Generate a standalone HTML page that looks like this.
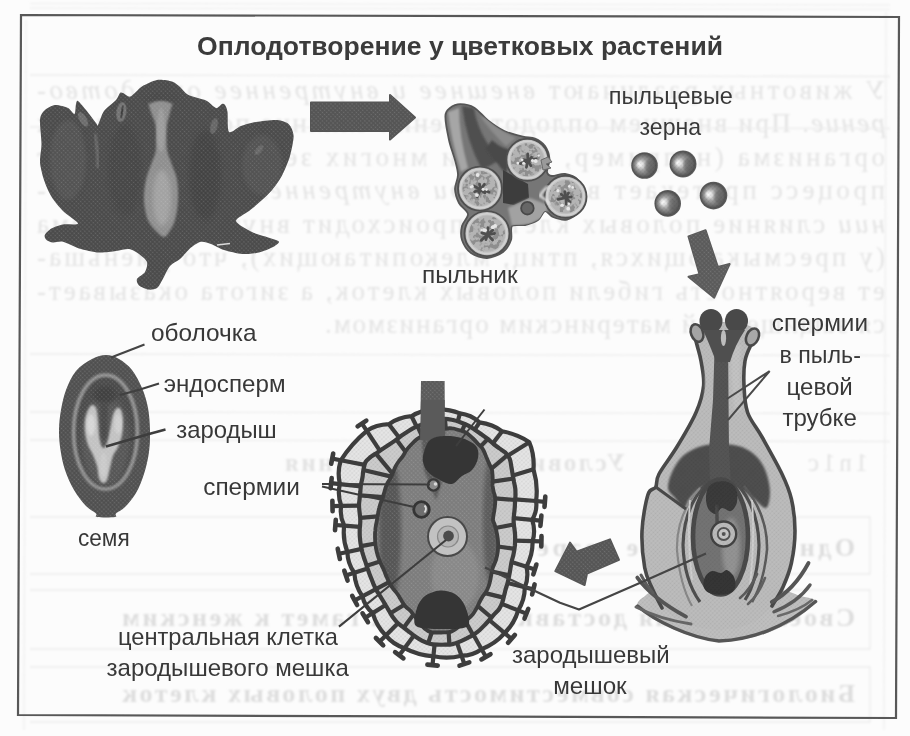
<!DOCTYPE html>
<html lang="ru"><head><meta charset="utf-8"><title>Оплодотворение у цветковых растений</title>
<style>
html,body{margin:0;padding:0;background:#fcfcfc;}
body{width:910px;height:736px;overflow:hidden;font-family:"Liberation Sans",sans-serif;}
svg{display:block}
text{font-family:"Liberation Sans",sans-serif}
.serif{font-family:"Liberation Serif",serif}
</style></head><body>
<svg width="910" height="736" viewBox="0 0 910 736">
<defs>
<filter id="soft" x="-5%" y="-5%" width="110%" height="110%"><feGaussianBlur stdDeviation="0.7"/></filter>
<filter id="soft2" x="-5%" y="-5%" width="110%" height="110%"><feGaussianBlur stdDeviation="1.2"/></filter>
<filter id="soft3" x="-10%" y="-10%" width="120%" height="120%"><feGaussianBlur stdDeviation="2.2"/></filter>
<filter id="ghost" x="-2%" y="-20%" width="104%" height="140%"><feGaussianBlur stdDeviation="0.9"/></filter>
<pattern id="ht" width="3" height="3" patternUnits="userSpaceOnUse" patternTransform="rotate(45)">
 <circle cx="1.5" cy="1.5" r="0.8" fill="#fff" fill-opacity="0.16"/>
</pattern>
<pattern id="htd" width="3" height="3" patternUnits="userSpaceOnUse" patternTransform="rotate(45)">
 <circle cx="1.5" cy="1.5" r="0.9" fill="#000" fill-opacity="0.22"/>
</pattern>
</defs>
<rect x="0" y="0" width="910" height="736" fill="#fcfcfc"/>
<g transform="translate(920,0) scale(-1,1)" filter="url(#ghost)" class="serif" fill="#e3e3e3" font-size="27">
<text x="35" y="98.5" textLength="848" lengthAdjust="spacing" class="serif">У животных различают <tspan font-style='italic'>внешнее и внутреннее оплодотво-</tspan></text>
<text x="35" y="132" textLength="848" lengthAdjust="spacing" class="serif"><tspan font-style='italic'>рение</tspan>. При внешнем оплодотворении слияние половых клеток</text>
<text x="35" y="165.5" textLength="848" lengthAdjust="spacing" class="serif">организма (например, у рыб и многих земноводных) этот</text>
<text x="35" y="199" textLength="848" lengthAdjust="spacing" class="serif">процесс протекает в воде. <tspan font-style='italic'>При внутреннем оплодотворе-</tspan></text>
<text x="35" y="232.5" textLength="848" lengthAdjust="spacing" class="serif"><tspan font-style='italic'>нии</tspan> слияние половых клеток происходит внутри организма</text>
<text x="35" y="266" textLength="848" lengthAdjust="spacing" class="serif">(у пресмыкающихся, птиц, млекопитающих), что уменьша-</text>
<text x="35" y="299.5" textLength="848" lengthAdjust="spacing" class="serif">ет вероятность гибели половых клеток, а зигота оказывает-</text>
<text x="35" y="333" textLength="560" lengthAdjust="spacing" class="serif">ся защищенной материнским организмом.</text>
<text x="295" y="471" font-size="25" font-weight="bold" class="serif" textLength="340" lengthAdjust="spacing">Условия оплодотворения</text>
<text x="52" y="471" font-size="25" class="serif" textLength="60" lengthAdjust="spacing">1n1c</text>
<text x="65" y="556" font-size="26" font-weight="bold" fill="#dddddd" class="serif" textLength="500" lengthAdjust="spacing">Одновременное созревание гамет</text>
<text x="65" y="626" font-size="26" font-weight="bold" fill="#dddddd" class="serif" textLength="733" lengthAdjust="spacing">Своевременная доставка мужских гамет к женским</text>
<text x="65" y="702" font-size="26" font-weight="bold" fill="#dddddd" class="serif" textLength="733" lengthAdjust="spacing">Биологическая совместимость двух половых клеток</text>
</g>
<g stroke="#ececec" stroke-width="1.3" fill="none" filter="url(#ghost)">
<path d="M30,3.5 L890,5 M30,8 L890,9.5" stroke="#ececec" stroke-width="1"/>
<path d="M30,75 L890,76.5"/>
<path d="M30,127 L890,128.5"/>
<path d="M30,354 L890,355.5"/>
<path d="M30,412 L890,413.5"/>
<path d="M30,440 L890,441.5"/>
<path d="M30,517 H870 V574 H30 M30,590 H870 V649 H30 M30,667 H870 V722 H30"/>
<path d="M26,20 L24,730 M886,12 L884,730" stroke="#eeeeee"/>
</g>
<path d="M21,15 L899,17 L896,718 L18,715 Z" fill="none" stroke="#585858" stroke-width="2.2" filter="url(#soft)"/>
<clipPath id="flc"><path d="M40.0,119.0C40.5,114.5 43.0,111.9 45.0,110.0C47.0,108.1 51.9,105.3 55.0,105.0C58.1,104.7 65.4,106.8 68.0,108.0C70.6,109.2 73.4,114.5 74.5,114.0C75.6,113.5 75.5,105.7 76.0,104.0C76.5,102.3 76.7,100.2 78.0,101.0C79.3,101.8 83.6,107.1 86.0,110.0C88.4,112.9 94.4,121.0 96.0,123.0C97.6,125.0 96.9,126.6 98.0,125.0C99.1,123.4 101.6,114.3 104.0,111.0C106.4,107.7 113.9,102.4 116.0,100.0C118.1,97.6 119.1,93.9 120.0,93.0C120.9,92.1 121.6,92.5 123.0,93.0C124.4,93.5 128.0,97.4 130.5,96.5C133.0,95.6 138.5,88.7 142.0,86.5C145.5,84.3 153.0,80.7 157.0,80.0C161.0,79.3 168.9,80.6 172.0,81.5C175.1,82.4 177.9,85.2 180.0,87.0C182.1,88.8 184.5,92.9 188.0,94.7C191.5,96.5 202.3,98.7 206.0,100.5C209.7,102.3 213.9,107.5 216.0,108.0C218.1,108.5 220.8,104.4 222.0,104.0C223.2,103.6 224.3,103.9 225.0,105.0C225.7,106.1 227.0,108.4 227.5,112.0C228.0,115.6 227.2,130.1 229.0,132.0C230.8,133.9 237.4,127.3 241.0,126.0C244.6,124.7 251.2,122.8 256.0,122.0C260.8,121.2 272.6,119.7 277.0,120.0C281.4,120.3 286.8,122.3 289.0,124.4C291.2,126.5 293.5,131.8 293.6,136.0C293.7,140.2 291.5,150.7 290.0,156.0C288.5,161.3 284.4,171.0 282.0,175.5C279.6,180.0 274.7,186.7 272.0,190.0C269.3,193.3 265.1,197.2 262.0,200.0C258.9,202.8 252.5,208.2 249.0,211.0C245.5,213.8 235.6,218.2 236.0,221.0C236.4,223.8 247.6,229.8 252.0,232.0C256.4,234.2 265.4,236.4 269.0,237.7C272.6,239.0 278.6,240.5 279.0,241.8C279.4,243.1 274.7,246.2 272.0,247.6C269.3,249.0 262.9,251.6 259.0,252.5C255.1,253.4 247.2,254.3 242.5,254.0C237.8,253.7 228.2,251.3 224.0,250.0C219.8,248.7 214.1,245.1 211.0,244.0C207.9,242.9 203.7,241.3 201.0,241.8C198.3,242.3 193.8,245.3 191.0,247.6C188.2,249.9 182.8,256.5 180.0,259.0C177.2,261.5 172.4,263.1 170.0,266.0C167.6,268.9 163.7,277.6 162.0,280.5C160.3,283.4 158.8,286.8 157.0,288.0C155.2,289.2 151.1,289.9 148.7,289.6C146.3,289.3 140.6,286.9 139.0,285.5C137.4,284.1 136.2,280.8 137.0,279.0C137.8,277.2 143.7,274.3 145.0,272.0C146.3,269.7 147.8,264.4 147.0,262.0C146.2,259.6 141.4,255.7 139.0,254.0C136.6,252.3 132.1,249.4 129.0,249.0C125.9,248.6 120.0,250.5 116.0,251.0C112.0,251.5 103.9,252.8 99.0,252.5C94.1,252.2 83.8,249.8 79.0,248.4C74.2,247.0 66.5,242.6 63.0,241.8C59.5,241.0 55.2,242.8 53.0,242.6C50.8,242.4 47.6,241.0 46.5,240.0C45.4,239.0 44.1,236.5 44.8,235.0C45.5,233.5 49.0,230.0 51.4,228.6C53.8,227.2 59.5,225.2 63.0,224.5C66.5,223.8 78.0,225.3 78.0,223.5C78.0,221.7 66.5,214.6 63.0,211.0C59.5,207.4 53.9,200.6 51.4,196.5C48.9,192.4 45.5,184.6 44.0,180.0C42.5,175.4 40.3,166.8 40.0,162.0C39.7,157.2 41.5,149.7 41.5,144.0C41.5,138.3 39.5,123.5 40.0,119.0Z"/></clipPath>
<g filter="url(#soft)">
<path d="M40.0,119.0C40.5,114.5 43.0,111.9 45.0,110.0C47.0,108.1 51.9,105.3 55.0,105.0C58.1,104.7 65.4,106.8 68.0,108.0C70.6,109.2 73.4,114.5 74.5,114.0C75.6,113.5 75.5,105.7 76.0,104.0C76.5,102.3 76.7,100.2 78.0,101.0C79.3,101.8 83.6,107.1 86.0,110.0C88.4,112.9 94.4,121.0 96.0,123.0C97.6,125.0 96.9,126.6 98.0,125.0C99.1,123.4 101.6,114.3 104.0,111.0C106.4,107.7 113.9,102.4 116.0,100.0C118.1,97.6 119.1,93.9 120.0,93.0C120.9,92.1 121.6,92.5 123.0,93.0C124.4,93.5 128.0,97.4 130.5,96.5C133.0,95.6 138.5,88.7 142.0,86.5C145.5,84.3 153.0,80.7 157.0,80.0C161.0,79.3 168.9,80.6 172.0,81.5C175.1,82.4 177.9,85.2 180.0,87.0C182.1,88.8 184.5,92.9 188.0,94.7C191.5,96.5 202.3,98.7 206.0,100.5C209.7,102.3 213.9,107.5 216.0,108.0C218.1,108.5 220.8,104.4 222.0,104.0C223.2,103.6 224.3,103.9 225.0,105.0C225.7,106.1 227.0,108.4 227.5,112.0C228.0,115.6 227.2,130.1 229.0,132.0C230.8,133.9 237.4,127.3 241.0,126.0C244.6,124.7 251.2,122.8 256.0,122.0C260.8,121.2 272.6,119.7 277.0,120.0C281.4,120.3 286.8,122.3 289.0,124.4C291.2,126.5 293.5,131.8 293.6,136.0C293.7,140.2 291.5,150.7 290.0,156.0C288.5,161.3 284.4,171.0 282.0,175.5C279.6,180.0 274.7,186.7 272.0,190.0C269.3,193.3 265.1,197.2 262.0,200.0C258.9,202.8 252.5,208.2 249.0,211.0C245.5,213.8 235.6,218.2 236.0,221.0C236.4,223.8 247.6,229.8 252.0,232.0C256.4,234.2 265.4,236.4 269.0,237.7C272.6,239.0 278.6,240.5 279.0,241.8C279.4,243.1 274.7,246.2 272.0,247.6C269.3,249.0 262.9,251.6 259.0,252.5C255.1,253.4 247.2,254.3 242.5,254.0C237.8,253.7 228.2,251.3 224.0,250.0C219.8,248.7 214.1,245.1 211.0,244.0C207.9,242.9 203.7,241.3 201.0,241.8C198.3,242.3 193.8,245.3 191.0,247.6C188.2,249.9 182.8,256.5 180.0,259.0C177.2,261.5 172.4,263.1 170.0,266.0C167.6,268.9 163.7,277.6 162.0,280.5C160.3,283.4 158.8,286.8 157.0,288.0C155.2,289.2 151.1,289.9 148.7,289.6C146.3,289.3 140.6,286.9 139.0,285.5C137.4,284.1 136.2,280.8 137.0,279.0C137.8,277.2 143.7,274.3 145.0,272.0C146.3,269.7 147.8,264.4 147.0,262.0C146.2,259.6 141.4,255.7 139.0,254.0C136.6,252.3 132.1,249.4 129.0,249.0C125.9,248.6 120.0,250.5 116.0,251.0C112.0,251.5 103.9,252.8 99.0,252.5C94.1,252.2 83.8,249.8 79.0,248.4C74.2,247.0 66.5,242.6 63.0,241.8C59.5,241.0 55.2,242.8 53.0,242.6C50.8,242.4 47.6,241.0 46.5,240.0C45.4,239.0 44.1,236.5 44.8,235.0C45.5,233.5 49.0,230.0 51.4,228.6C53.8,227.2 59.5,225.2 63.0,224.5C66.5,223.8 78.0,225.3 78.0,223.5C78.0,221.7 66.5,214.6 63.0,211.0C59.5,207.4 53.9,200.6 51.4,196.5C48.9,192.4 45.5,184.6 44.0,180.0C42.5,175.4 40.3,166.8 40.0,162.0C39.7,157.2 41.5,149.7 41.5,144.0C41.5,138.3 39.5,123.5 40.0,119.0Z" fill="#4b4b4b"/>
<g clip-path="url(#flc)">
<ellipse cx="68" cy="160" rx="18" ry="40" fill="#585858" opacity="0.7" filter="url(#soft3)"/>
<ellipse cx="262" cy="165" rx="20" ry="30" fill="#565656" opacity="0.7" filter="url(#soft3)"/>
<ellipse cx="125" cy="170" rx="16" ry="45" fill="#444" opacity="0.8" filter="url(#soft3)"/>
<ellipse cx="205" cy="175" rx="16" ry="45" fill="#424242" opacity="0.8" filter="url(#soft3)"/>
<path d="M149.0,101.0C150.5,98.9 156.2,99.5 160.0,99.5C163.8,99.5 170.3,98.9 172.0,101.0C173.7,103.1 170.8,108.0 170.0,112.0C169.2,116.0 167.6,120.3 167.0,125.0C166.4,129.7 166.4,135.5 166.5,140.0C166.6,144.5 166.6,147.8 167.5,152.0C168.4,156.2 170.4,160.3 172.0,165.0C173.6,169.7 176.0,174.2 177.0,180.0C178.0,185.8 178.3,193.3 178.0,200.0C177.7,206.7 176.5,214.7 175.0,220.0C173.5,225.3 170.8,229.2 169.0,232.0C167.2,234.8 166.0,237.0 164.0,237.0C162.0,237.0 159.7,234.8 157.0,232.0C154.3,229.2 150.2,225.3 148.0,220.0C145.8,214.7 144.3,206.7 144.0,200.0C143.7,193.3 144.8,185.8 146.0,180.0C147.2,174.2 149.4,169.7 151.0,165.0C152.6,160.3 154.7,156.2 155.5,152.0C156.3,147.8 156.0,144.5 156.0,140.0C156.0,135.5 156.3,129.7 155.5,125.0C154.7,120.3 152.1,116.0 151.0,112.0C149.9,108.0 147.5,103.1 149.0,101.0Z" fill="#8e8e8e" filter="url(#soft2)"/>
<ellipse cx="162" cy="198" rx="9" ry="28" fill="#a2a2a2" filter="url(#soft3)"/>
<ellipse cx="161" cy="130" rx="4" ry="22" fill="#9c9c9c" filter="url(#soft2)"/>
<path d="M146,98 Q161,88 176,98 L173,104 Q161,97 149,104Z" fill="#484848" filter="url(#soft2)"/>
<ellipse cx="121.5" cy="112" rx="5" ry="10" fill="#727272" transform="rotate(8 121 111)" filter="url(#soft)"/>
<ellipse cx="122" cy="112" rx="1.1" ry="7" fill="#3c3c3c" transform="rotate(8 122 112)" filter="url(#soft)"/>
<ellipse cx="83.5" cy="119" rx="3.6" ry="8" fill="#6c6c6c" transform="rotate(-30 84 120)" filter="url(#soft)"/>
<ellipse cx="214" cy="126" rx="3.5" ry="8" fill="#666" transform="rotate(15 214 126)" filter="url(#soft)"/>
<ellipse cx="259" cy="150" rx="2.8" ry="6" fill="#686868" transform="rotate(40 259 150)" filter="url(#soft)"/>
<path d="M95,134 Q98,150 98,168" stroke="#6c6c6c" stroke-width="2.6" fill="none" filter="url(#soft2)"/>
<path d="M217,245 L230,243.5" stroke="#d8d8d8" stroke-width="1.4" fill="none"/>
<path d="M40.0,119.0C40.5,114.5 43.0,111.9 45.0,110.0C47.0,108.1 51.9,105.3 55.0,105.0C58.1,104.7 65.4,106.8 68.0,108.0C70.6,109.2 73.4,114.5 74.5,114.0C75.6,113.5 75.5,105.7 76.0,104.0C76.5,102.3 76.7,100.2 78.0,101.0C79.3,101.8 83.6,107.1 86.0,110.0C88.4,112.9 94.4,121.0 96.0,123.0C97.6,125.0 96.9,126.6 98.0,125.0C99.1,123.4 101.6,114.3 104.0,111.0C106.4,107.7 113.9,102.4 116.0,100.0C118.1,97.6 119.1,93.9 120.0,93.0C120.9,92.1 121.6,92.5 123.0,93.0C124.4,93.5 128.0,97.4 130.5,96.5C133.0,95.6 138.5,88.7 142.0,86.5C145.5,84.3 153.0,80.7 157.0,80.0C161.0,79.3 168.9,80.6 172.0,81.5C175.1,82.4 177.9,85.2 180.0,87.0C182.1,88.8 184.5,92.9 188.0,94.7C191.5,96.5 202.3,98.7 206.0,100.5C209.7,102.3 213.9,107.5 216.0,108.0C218.1,108.5 220.8,104.4 222.0,104.0C223.2,103.6 224.3,103.9 225.0,105.0C225.7,106.1 227.0,108.4 227.5,112.0C228.0,115.6 227.2,130.1 229.0,132.0C230.8,133.9 237.4,127.3 241.0,126.0C244.6,124.7 251.2,122.8 256.0,122.0C260.8,121.2 272.6,119.7 277.0,120.0C281.4,120.3 286.8,122.3 289.0,124.4C291.2,126.5 293.5,131.8 293.6,136.0C293.7,140.2 291.5,150.7 290.0,156.0C288.5,161.3 284.4,171.0 282.0,175.5C279.6,180.0 274.7,186.7 272.0,190.0C269.3,193.3 265.1,197.2 262.0,200.0C258.9,202.8 252.5,208.2 249.0,211.0C245.5,213.8 235.6,218.2 236.0,221.0C236.4,223.8 247.6,229.8 252.0,232.0C256.4,234.2 265.4,236.4 269.0,237.7C272.6,239.0 278.6,240.5 279.0,241.8C279.4,243.1 274.7,246.2 272.0,247.6C269.3,249.0 262.9,251.6 259.0,252.5C255.1,253.4 247.2,254.3 242.5,254.0C237.8,253.7 228.2,251.3 224.0,250.0C219.8,248.7 214.1,245.1 211.0,244.0C207.9,242.9 203.7,241.3 201.0,241.8C198.3,242.3 193.8,245.3 191.0,247.6C188.2,249.9 182.8,256.5 180.0,259.0C177.2,261.5 172.4,263.1 170.0,266.0C167.6,268.9 163.7,277.6 162.0,280.5C160.3,283.4 158.8,286.8 157.0,288.0C155.2,289.2 151.1,289.9 148.7,289.6C146.3,289.3 140.6,286.9 139.0,285.5C137.4,284.1 136.2,280.8 137.0,279.0C137.8,277.2 143.7,274.3 145.0,272.0C146.3,269.7 147.8,264.4 147.0,262.0C146.2,259.6 141.4,255.7 139.0,254.0C136.6,252.3 132.1,249.4 129.0,249.0C125.9,248.6 120.0,250.5 116.0,251.0C112.0,251.5 103.9,252.8 99.0,252.5C94.1,252.2 83.8,249.8 79.0,248.4C74.2,247.0 66.5,242.6 63.0,241.8C59.5,241.0 55.2,242.8 53.0,242.6C50.8,242.4 47.6,241.0 46.5,240.0C45.4,239.0 44.1,236.5 44.8,235.0C45.5,233.5 49.0,230.0 51.4,228.6C53.8,227.2 59.5,225.2 63.0,224.5C66.5,223.8 78.0,225.3 78.0,223.5C78.0,221.7 66.5,214.6 63.0,211.0C59.5,207.4 53.9,200.6 51.4,196.5C48.9,192.4 45.5,184.6 44.0,180.0C42.5,175.4 40.3,166.8 40.0,162.0C39.7,157.2 41.5,149.7 41.5,144.0C41.5,138.3 39.5,123.5 40.0,119.0Z" fill="url(#ht)"/>
</g>
</g>
<g filter="url(#soft)"><path d="M311.0,102.5L390.0,102.5L390.0,95.0L415.0,117.5L390.0,139.5L390.0,131.0L311.0,131.0Z" fill="#545454" stroke="#545454" stroke-width="2" stroke-linejoin="round"/><path d="M311.0,102.5L390.0,102.5L390.0,95.0L415.0,117.5L390.0,139.5L390.0,131.0L311.0,131.0Z" fill="url(#ht)"/></g>
<filter id="mott" x="0" y="0" width="100%" height="100%">
<feTurbulence type="fractalNoise" baseFrequency="0.2" numOctaves="2" seed="9" result="n"/>
<feColorMatrix in="n" type="matrix" values="0 0 0 0 0.27  0 0 0 0 0.27  0 0 0 0 0.27  9 0 0 0 -4.3" result="c"/>
<feComposite in="c" in2="SourceAlpha" operator="in" result="m"/>
<feMerge><feMergeNode in="SourceGraphic"/><feMergeNode in="m"/></feMerge>
</filter>
<clipPath id="anc"><path d="M445.4,116.0C445.5,111.2 447.8,109.8 450.0,108.0C452.2,106.2 456.8,104.2 460.4,104.2C464.0,104.2 470.2,105.3 474.3,107.7C478.4,110.1 483.5,116.9 488.0,120.4C492.5,123.9 499.1,128.6 504.3,131.0C509.5,133.4 518.2,135.5 522.8,136.6C527.4,137.7 531.7,137.1 535.0,138.5C538.3,139.9 542.8,142.9 545.0,146.0C547.2,149.1 549.2,155.1 549.5,159.0C549.8,162.9 546.6,169.4 547.0,172.0C547.4,174.6 549.3,175.7 552.0,176.0C554.7,176.3 561.1,173.4 565.0,174.0C568.9,174.6 575.0,176.7 578.0,180.0C581.0,183.3 584.7,191.3 585.0,196.0C585.3,200.7 582.7,207.5 580.0,211.0C577.3,214.5 571.0,218.6 567.0,219.5C563.0,220.4 556.3,218.3 553.0,217.0C549.7,215.7 547.2,210.6 545.0,211.0C542.8,211.4 541.0,217.9 538.0,220.0C535.0,222.1 528.9,224.1 525.0,225.0C521.1,225.9 514.1,223.8 512.0,226.0C509.9,228.2 512.4,236.1 511.0,240.0C509.6,243.9 506.6,249.3 503.0,252.0C499.4,254.7 491.8,257.9 487.0,258.0C482.2,258.1 474.8,255.7 471.0,253.0C467.2,250.3 463.4,244.1 462.0,240.0C460.6,235.9 461.1,229.9 462.0,226.0C462.9,222.1 468.4,217.4 468.0,214.0C467.6,210.6 460.9,206.8 459.0,203.0C457.1,199.2 455.1,193.2 455.0,189.0C454.9,184.8 458.0,179.3 458.0,175.0C458.0,170.7 456.4,165.2 455.0,160.0C453.6,154.8 450.4,146.6 449.0,140.0C447.6,133.4 445.2,120.8 445.4,116.0Z"/></clipPath>
<g filter="url(#soft)">
<path d="M445.4,116.0C445.5,111.2 447.8,109.8 450.0,108.0C452.2,106.2 456.8,104.2 460.4,104.2C464.0,104.2 470.2,105.3 474.3,107.7C478.4,110.1 483.5,116.9 488.0,120.4C492.5,123.9 499.1,128.6 504.3,131.0C509.5,133.4 518.2,135.5 522.8,136.6C527.4,137.7 531.7,137.1 535.0,138.5C538.3,139.9 542.8,142.9 545.0,146.0C547.2,149.1 549.2,155.1 549.5,159.0C549.8,162.9 546.6,169.4 547.0,172.0C547.4,174.6 549.3,175.7 552.0,176.0C554.7,176.3 561.1,173.4 565.0,174.0C568.9,174.6 575.0,176.7 578.0,180.0C581.0,183.3 584.7,191.3 585.0,196.0C585.3,200.7 582.7,207.5 580.0,211.0C577.3,214.5 571.0,218.6 567.0,219.5C563.0,220.4 556.3,218.3 553.0,217.0C549.7,215.7 547.2,210.6 545.0,211.0C542.8,211.4 541.0,217.9 538.0,220.0C535.0,222.1 528.9,224.1 525.0,225.0C521.1,225.9 514.1,223.8 512.0,226.0C509.9,228.2 512.4,236.1 511.0,240.0C509.6,243.9 506.6,249.3 503.0,252.0C499.4,254.7 491.8,257.9 487.0,258.0C482.2,258.1 474.8,255.7 471.0,253.0C467.2,250.3 463.4,244.1 462.0,240.0C460.6,235.9 461.1,229.9 462.0,226.0C462.9,222.1 468.4,217.4 468.0,214.0C467.6,210.6 460.9,206.8 459.0,203.0C457.1,199.2 455.1,193.2 455.0,189.0C454.9,184.8 458.0,179.3 458.0,175.0C458.0,170.7 456.4,165.2 455.0,160.0C453.6,154.8 450.4,146.6 449.0,140.0C447.6,133.4 445.2,120.8 445.4,116.0Z" fill="#767676" stroke="#555" stroke-width="1.8"/>
<g clip-path="url(#anc)">
<path d="M448,112 Q451,140 461,172 L468,168 Q459,135 459,108Z" fill="#a6a6a6" filter="url(#soft2)"/>
<path d="M462,106 Q466,140 482,170 L500,160 Q478,135 474,108Z" fill="#505050" filter="url(#soft2)"/>
<path d="M480,116 Q492,133 506,146 L516,138 Q498,130 486,118Z" fill="#8c8c8c" filter="url(#soft2)"/>
<path d="M486,148 Q498,165 506,174 L512,150 Q500,148 492,140Z" fill="#484848" filter="url(#soft2)"/>
<path d="M503,170 L528,184 L529,198 L514,205 L503,203 Z" fill="#3e3e3e" filter="url(#soft)"/>
<path d="M508,208 L530,198 L548,205 L546,216 L530,224 L512,226Z" fill="#a2a2a2" filter="url(#soft2)"/>
</g>
<circle cx="527.4" cy="159.7" r="21" fill="#c2c2c2" stroke="#505050" stroke-width="1.9"/>
<g filter="url(#soft)">
<circle cx="527.4" cy="159.7" r="16.5" fill="#b4b4b4" filter="url(#mott)"/>
<path d="M527.9,160.7 L536.1,158.9" stroke="#505050" stroke-width="2.8" stroke-linecap="round"/>
<path d="M527.9,160.7 L530.9,165.9" stroke="#505050" stroke-width="2.8" stroke-linecap="round"/>
<path d="M527.9,160.7 L526.4,167.3" stroke="#505050" stroke-width="2.8" stroke-linecap="round"/>
<path d="M527.9,160.7 L520.3,163.6" stroke="#505050" stroke-width="2.8" stroke-linecap="round"/>
<path d="M527.9,160.7 L522.9,159.7" stroke="#505050" stroke-width="2.8" stroke-linecap="round"/>
<path d="M527.9,160.7 L527.7,154.0" stroke="#505050" stroke-width="2.8" stroke-linecap="round"/>
<path d="M527.9,160.7 L531.6,157.3" stroke="#505050" stroke-width="2.8" stroke-linecap="round"/>
<circle cx="517.8" cy="163.1" r="1.4" fill="#e6e6e6"/>
<circle cx="538.7" cy="155.6" r="1.2" fill="#e6e6e6"/>
<circle cx="535.7" cy="161.0" r="2.0" fill="#e6e6e6"/>
<circle cx="523.6" cy="163.2" r="1.5" fill="#e6e6e6"/>
<circle cx="532.5" cy="160.6" r="1.6" fill="#e6e6e6"/>
<circle cx="522.1" cy="159.8" r="1.4" fill="#e6e6e6"/>
</g>
<circle cx="527.4" cy="159.7" r="18.4" fill="none" stroke="#d2d2d2" stroke-width="1.5"/>
<circle cx="480" cy="188.6" r="22" fill="#c2c2c2" stroke="#505050" stroke-width="1.9"/>
<g filter="url(#soft)">
<circle cx="480" cy="188.6" r="17.5" fill="#b4b4b4" filter="url(#mott)"/>
<path d="M480.5,189.6 L489.0,192.0" stroke="#505050" stroke-width="2.8" stroke-linecap="round"/>
<path d="M480.5,189.6 L484.8,192.8" stroke="#505050" stroke-width="2.8" stroke-linecap="round"/>
<path d="M480.5,189.6 L477.2,196.8" stroke="#505050" stroke-width="2.8" stroke-linecap="round"/>
<path d="M480.5,189.6 L474.6,191.7" stroke="#505050" stroke-width="2.8" stroke-linecap="round"/>
<path d="M480.5,189.6 L474.0,186.0" stroke="#505050" stroke-width="2.8" stroke-linecap="round"/>
<path d="M480.5,189.6 L479.5,184.1" stroke="#505050" stroke-width="2.8" stroke-linecap="round"/>
<path d="M480.5,189.6 L484.4,184.3" stroke="#505050" stroke-width="2.8" stroke-linecap="round"/>
<circle cx="477.6" cy="174.9" r="2.0" fill="#e6e6e6"/>
<circle cx="472.4" cy="186.4" r="1.4" fill="#e6e6e6"/>
<circle cx="483.2" cy="189.3" r="1.6" fill="#e6e6e6"/>
<circle cx="477.0" cy="195.1" r="1.9" fill="#e6e6e6"/>
<circle cx="471.0" cy="187.1" r="1.4" fill="#e6e6e6"/>
<circle cx="486.5" cy="189.6" r="1.3" fill="#e6e6e6"/>
</g>
<circle cx="480" cy="188.6" r="19.4" fill="none" stroke="#d2d2d2" stroke-width="1.5"/>
<circle cx="487" cy="233.6" r="22.5" fill="#c2c2c2" stroke="#505050" stroke-width="1.9"/>
<g filter="url(#soft)">
<circle cx="487" cy="233.6" r="18.0" fill="#b4b4b4" filter="url(#mott)"/>
<path d="M487.5,234.6 L494.6,233.5" stroke="#505050" stroke-width="2.8" stroke-linecap="round"/>
<path d="M487.5,234.6 L492.6,240.0" stroke="#505050" stroke-width="2.8" stroke-linecap="round"/>
<path d="M487.5,234.6 L485.9,239.6" stroke="#505050" stroke-width="2.8" stroke-linecap="round"/>
<path d="M487.5,234.6 L481.3,240.2" stroke="#505050" stroke-width="2.8" stroke-linecap="round"/>
<path d="M487.5,234.6 L481.8,232.8" stroke="#505050" stroke-width="2.8" stroke-linecap="round"/>
<path d="M487.5,234.6 L488.0,227.7" stroke="#505050" stroke-width="2.8" stroke-linecap="round"/>
<path d="M487.5,234.6 L492.8,230.2" stroke="#505050" stroke-width="2.8" stroke-linecap="round"/>
<circle cx="484.0" cy="230.0" r="1.7" fill="#e6e6e6"/>
<circle cx="493.1" cy="227.0" r="1.8" fill="#e6e6e6"/>
<circle cx="485.2" cy="230.3" r="1.8" fill="#e6e6e6"/>
<circle cx="481.6" cy="230.1" r="1.2" fill="#e6e6e6"/>
<circle cx="492.6" cy="227.3" r="1.8" fill="#e6e6e6"/>
<circle cx="495.1" cy="225.9" r="1.9" fill="#e6e6e6"/>
</g>
<circle cx="487" cy="233.6" r="19.9" fill="none" stroke="#d2d2d2" stroke-width="1.5"/>
<circle cx="565.5" cy="196.7" r="21" fill="#c2c2c2" stroke="#505050" stroke-width="1.9"/>
<g filter="url(#soft)">
<circle cx="565.5" cy="196.7" r="16.5" fill="#b4b4b4" filter="url(#mott)"/>
<path d="M566.0,197.7 L571.3,196.8" stroke="#505050" stroke-width="2.8" stroke-linecap="round"/>
<path d="M566.0,197.7 L569.8,201.9" stroke="#505050" stroke-width="2.8" stroke-linecap="round"/>
<path d="M566.0,197.7 L566.2,204.3" stroke="#505050" stroke-width="2.8" stroke-linecap="round"/>
<path d="M566.0,197.7 L558.0,199.3" stroke="#505050" stroke-width="2.8" stroke-linecap="round"/>
<path d="M566.0,197.7 L561.2,194.3" stroke="#505050" stroke-width="2.8" stroke-linecap="round"/>
<path d="M566.0,197.7 L564.8,191.7" stroke="#505050" stroke-width="2.8" stroke-linecap="round"/>
<path d="M566.0,197.7 L568.5,192.9" stroke="#505050" stroke-width="2.8" stroke-linecap="round"/>
<circle cx="568.2" cy="208.7" r="1.9" fill="#e6e6e6"/>
<circle cx="569.3" cy="186.4" r="1.4" fill="#e6e6e6"/>
<circle cx="562.1" cy="205.3" r="1.8" fill="#e6e6e6"/>
<circle cx="572.7" cy="187.4" r="1.3" fill="#e6e6e6"/>
<circle cx="557.9" cy="190.7" r="1.6" fill="#e6e6e6"/>
<circle cx="568.9" cy="203.7" r="1.3" fill="#e6e6e6"/>
</g>
<circle cx="565.5" cy="196.7" r="18.4" fill="none" stroke="#d2d2d2" stroke-width="1.5"/>
<circle cx="527.4" cy="208.2" r="6.3" fill="#666" stroke="#4a4a4a" stroke-width="1.8"/>
<path d="M541,160 l7,-3 l4,5 l-6,2 l5,4 l-8,2z" fill="#9a9a9a" stroke="#6a6a6a" stroke-width="1" filter="url(#soft)"/>
<path d="M549,186 q-7,5 -9,10 q6,3 10,8" stroke="#e2e2e2" stroke-width="2.4" fill="none" filter="url(#soft2)"/>
</g>
<radialGradient id="pg" cx="0.5" cy="0.5" r="0.5" fx="0.3" fy="0.45">
<stop offset="0" stop-color="#ffffff"/><stop offset="0.18" stop-color="#e6e6e6"/><stop offset="0.42" stop-color="#a6a6a6"/><stop offset="0.7" stop-color="#787878"/><stop offset="0.9" stop-color="#545454"/><stop offset="1" stop-color="#626262"/></radialGradient>
<g filter="url(#soft)">
<circle cx="644.5" cy="165.5" r="13.3" fill="url(#pg)"/>
<circle cx="644.5" cy="165.5" r="13.3" fill="url(#htd)" opacity="0.45"/>
<ellipse cx="649.0" cy="166.5" rx="4" ry="6.5" fill="#444" opacity="0.4" filter="url(#soft2)"/>
<circle cx="683" cy="164" r="13.5" fill="url(#pg)"/>
<circle cx="683" cy="164" r="13.5" fill="url(#htd)" opacity="0.45"/>
<ellipse cx="687.5" cy="165" rx="4" ry="6.5" fill="#444" opacity="0.4" filter="url(#soft2)"/>
<circle cx="667.7" cy="203.4" r="13.3" fill="url(#pg)"/>
<circle cx="667.7" cy="203.4" r="13.3" fill="url(#htd)" opacity="0.45"/>
<ellipse cx="672.2" cy="204.4" rx="4" ry="6.5" fill="#444" opacity="0.4" filter="url(#soft2)"/>
<circle cx="713.5" cy="195.6" r="13.8" fill="url(#pg)"/>
<circle cx="713.5" cy="195.6" r="13.8" fill="url(#htd)" opacity="0.45"/>
<ellipse cx="718.0" cy="196.6" rx="4" ry="6.5" fill="#444" opacity="0.4" filter="url(#soft2)"/>
<path d="M688.5,236.4L705.6,230.3L717.9,267.0L729.6,264.0L714.2,297.6L688.5,276.8L699.5,274.3Z" fill="#5a5a5a" stroke="#5a5a5a" stroke-width="2" stroke-linejoin="round"/><path d="M688.5,236.4L705.6,230.3L717.9,267.0L729.6,264.0L714.2,297.6L688.5,276.8L699.5,274.3Z" fill="url(#ht)"/>
<path d="M555.3,571.2L570.0,542.6L576.5,551.6L610.0,539.4L619.0,559.8L587.0,573.6L584.6,585.0Z" fill="#555" stroke="#555" stroke-width="2" stroke-linejoin="round"/><path d="M555.3,571.2L570.0,542.6L576.5,551.6L610.0,539.4L619.0,559.8L587.0,573.6L584.6,585.0Z" fill="url(#ht)"/>
</g>
<clipPath id="sdc"><path d="M106.0,355.0C110.5,355.0 114.7,356.5 119.0,359.0C123.3,361.5 128.2,365.2 132.0,370.0C135.8,374.8 139.3,381.7 142.0,388.0C144.7,394.3 146.7,401.0 148.0,408.0C149.3,415.0 149.8,422.7 150.0,430.0C150.2,437.3 150.0,444.7 149.0,452.0C148.0,459.3 146.2,467.2 144.0,474.0C141.8,480.8 139.2,487.5 136.0,493.0C132.8,498.5 128.3,503.6 125.0,507.0C121.7,510.4 117.7,511.8 116.0,513.5C114.3,515.2 118.2,516.4 115.0,517.0C111.8,517.6 100.2,517.6 97.0,517.0C93.8,516.4 97.8,515.3 96.0,513.5C94.2,511.7 89.7,509.9 86.0,506.0C82.3,502.1 77.5,496.0 74.0,490.0C70.5,484.0 67.2,476.7 65.0,470.0C62.8,463.3 61.5,456.7 60.5,450.0C59.5,443.3 58.9,436.7 59.0,430.0C59.1,423.3 59.8,416.7 61.0,410.0C62.2,403.3 63.5,396.5 66.0,390.0C68.5,383.5 71.7,376.2 76.0,371.0C80.3,365.8 87.0,361.7 92.0,359.0C97.0,356.3 101.5,355.0 106.0,355.0Z"/></clipPath>
<g filter="url(#soft)">
<path d="M106.0,355.0C110.5,355.0 114.7,356.5 119.0,359.0C123.3,361.5 128.2,365.2 132.0,370.0C135.8,374.8 139.3,381.7 142.0,388.0C144.7,394.3 146.7,401.0 148.0,408.0C149.3,415.0 149.8,422.7 150.0,430.0C150.2,437.3 150.0,444.7 149.0,452.0C148.0,459.3 146.2,467.2 144.0,474.0C141.8,480.8 139.2,487.5 136.0,493.0C132.8,498.5 128.3,503.6 125.0,507.0C121.7,510.4 117.7,511.8 116.0,513.5C114.3,515.2 118.2,516.4 115.0,517.0C111.8,517.6 100.2,517.6 97.0,517.0C93.8,516.4 97.8,515.3 96.0,513.5C94.2,511.7 89.7,509.9 86.0,506.0C82.3,502.1 77.5,496.0 74.0,490.0C70.5,484.0 67.2,476.7 65.0,470.0C62.8,463.3 61.5,456.7 60.5,450.0C59.5,443.3 58.9,436.7 59.0,430.0C59.1,423.3 59.8,416.7 61.0,410.0C62.2,403.3 63.5,396.5 66.0,390.0C68.5,383.5 71.7,376.2 76.0,371.0C80.3,365.8 87.0,361.7 92.0,359.0C97.0,356.3 101.5,355.0 106.0,355.0Z" fill="#505050"/>
<g clip-path="url(#sdc)">
<ellipse cx="105.5" cy="432" rx="32" ry="57" fill="#4c4c4c" stroke="#949494" stroke-width="3.4" filter="url(#soft2)"/>
<ellipse cx="105.5" cy="440" rx="24" ry="46" fill="#565656" filter="url(#soft3)"/>
<path d="M88.0,410.0C89.2,407.5 90.7,405.3 92.0,405.0C93.3,404.7 95.0,405.5 96.0,408.0C97.0,410.5 97.5,415.5 98.0,420.0C98.5,424.5 98.5,430.8 99.0,435.0C99.5,439.2 100.2,442.8 101.0,445.0C101.8,447.2 103.0,448.3 104.0,448.0C105.0,447.7 106.0,446.0 107.0,443.0C108.0,440.0 109.0,434.7 110.0,430.0C111.0,425.3 111.8,418.7 113.0,415.0C114.2,411.3 115.7,408.8 117.0,408.0C118.3,407.2 120.0,408.0 121.0,410.0C122.0,412.0 122.8,415.8 123.0,420.0C123.2,424.2 122.8,430.5 122.0,435.0C121.2,439.5 119.5,443.5 118.0,447.0C116.5,450.5 114.3,452.5 113.0,456.0C111.7,459.5 111.0,464.0 110.0,468.0C109.0,472.0 108.2,477.5 107.0,480.0C105.8,482.5 104.3,483.3 103.0,483.0C101.7,482.7 100.0,480.8 99.0,478.0C98.0,475.2 98.0,469.8 97.0,466.0C96.0,462.2 94.5,458.5 93.0,455.0C91.5,451.5 89.3,448.8 88.0,445.0C86.7,441.2 85.5,436.2 85.0,432.0C84.5,427.8 84.5,423.7 85.0,420.0C85.5,416.3 86.8,412.5 88.0,410.0Z" fill="#c2c2c2" filter="url(#soft2)"/>
<ellipse cx="91" cy="425" rx="4" ry="11" fill="#d6d6d6" filter="url(#soft2)"/>
<ellipse cx="118" cy="424" rx="3.5" ry="10" fill="#cfcfcf" filter="url(#soft2)"/>
<ellipse cx="103.5" cy="465" rx="3.5" ry="12" fill="#cacaca" filter="url(#soft2)"/>
<path d="M100,404 L108,404 L107,436 L104,442 L101,436Z" fill="#484848" filter="url(#soft2)"/>
<ellipse cx="105" cy="395" rx="12" ry="9" fill="#404040" filter="url(#soft3)"/>
<path d="M106.0,355.0C110.5,355.0 114.7,356.5 119.0,359.0C123.3,361.5 128.2,365.2 132.0,370.0C135.8,374.8 139.3,381.7 142.0,388.0C144.7,394.3 146.7,401.0 148.0,408.0C149.3,415.0 149.8,422.7 150.0,430.0C150.2,437.3 150.0,444.7 149.0,452.0C148.0,459.3 146.2,467.2 144.0,474.0C141.8,480.8 139.2,487.5 136.0,493.0C132.8,498.5 128.3,503.6 125.0,507.0C121.7,510.4 117.7,511.8 116.0,513.5C114.3,515.2 118.2,516.4 115.0,517.0C111.8,517.6 100.2,517.6 97.0,517.0C93.8,516.4 97.8,515.3 96.0,513.5C94.2,511.7 89.7,509.9 86.0,506.0C82.3,502.1 77.5,496.0 74.0,490.0C70.5,484.0 67.2,476.7 65.0,470.0C62.8,463.3 61.5,456.7 60.5,450.0C59.5,443.3 58.9,436.7 59.0,430.0C59.1,423.3 59.8,416.7 61.0,410.0C62.2,403.3 63.5,396.5 66.0,390.0C68.5,383.5 71.7,376.2 76.0,371.0C80.3,365.8 87.0,361.7 92.0,359.0C97.0,356.3 101.5,355.0 106.0,355.0Z" fill="url(#ht)"/>
</g>
<path d="M144.5,344.5 L111,357.5" stroke="#444" stroke-width="2.1" fill="none"/>
<path d="M159,383.5 L140,389.5 L120,395" stroke="#404040" stroke-width="2.3" fill="none"/>
<path d="M165.5,429.5 L149,434 L106,446.5" stroke="#3c3c3c" stroke-width="2.4" fill="none"/>
</g>
<g filter="url(#soft)">
<path d="M421,381 L444.6,381 L445,440 L420,440Z" fill="#5a5a5a"/>
<path d="M421,381 L444.6,381 L445,440 L420,440Z" fill="url(#ht)"/>
<path d="M532.6,541.1Q532.9,554.5 526.5,566.7Q528.9,577.9 524.8,587.3Q524.8,599.9 518.2,610.4Q514.4,623.5 504.7,633.1Q495.3,643.7 481.6,649.2Q472.9,655.5 461.5,655.7Q447.9,659.3 433.4,656.3Q417.8,655.3 404.5,648.2Q392.9,644.4 385.8,635.4Q376.6,626.4 372.7,613.1Q364.6,606.4 362.4,596.3Q355.2,585.9 354.3,572.8Q347.5,563.3 347.4,552.0Q342.4,539.0 344.2,525.7Q339.3,515.7 341.3,505.9Q337.2,494.9 339.9,484.1Q337.0,471.7 340.8,460.3Q351.2,443.8 366.8,430.8Q375.9,424.7 388.9,424.2Q398.4,417.3 411.5,416.2Q421.1,409.8 432.9,409.8Q446.6,408.3 460.0,413.4Q471.1,414.8 479.5,422.3Q492.8,424.0 502.2,431.3Q518.2,434.5 529.3,442.2Q534.5,454.4 533.5,469.3Q538.2,484.9 536.1,501.0Q537.5,510.8 532.2,519.9Q535.8,530.7 532.6,541.1Z" fill="#e6e6e6"/><path d="M515.1,535.0C515.1,536.7 515.2,538.5 515.1,540.2C515.1,541.9 515.0,543.6 514.9,545.4C514.7,547.1 514.5,548.8 514.2,550.6C513.9,552.3 513.6,554.0 513.2,555.7C512.8,557.4 512.2,559.1 511.8,560.8C511.4,562.5 511.1,564.3 510.8,566.1C510.5,567.9 510.3,569.8 509.9,571.6C509.6,573.5 509.2,575.4 508.8,577.4C508.4,579.3 508.0,581.3 507.5,583.3C507.0,585.3 506.2,587.2 505.7,589.2C505.1,591.3 504.6,593.6 504.0,595.9C503.5,598.2 503.0,600.6 502.1,602.9C501.3,605.1 500.3,607.3 499.0,609.2C497.7,611.1 495.9,612.4 494.4,614.1C492.8,615.8 491.4,617.7 489.8,619.5C488.2,621.3 486.6,623.1 484.8,624.9C483.1,626.7 481.4,628.5 479.5,630.2C477.6,631.9 475.5,633.5 473.4,634.8C471.3,636.2 469.0,637.2 466.8,638.4C464.5,639.5 462.2,640.7 459.8,641.6C457.4,642.6 455.0,643.5 452.5,644.1C450.0,644.6 447.4,644.6 444.8,644.7C442.3,644.8 439.7,644.8 437.2,644.6C434.6,644.5 432.0,644.4 429.6,643.7C427.1,643.1 424.7,642.1 422.3,640.9C420.0,639.7 417.8,638.3 415.6,636.8C413.5,635.3 411.5,633.6 409.5,632.1C407.5,630.5 405.6,628.9 403.6,627.5C401.7,626.0 399.7,624.9 398.0,623.2C396.2,621.6 394.7,619.6 393.3,617.7C391.8,615.7 390.6,613.5 389.4,611.5C388.2,609.5 387.1,607.4 385.9,605.5C384.8,603.6 383.6,601.8 382.5,600.0C381.4,598.2 380.3,596.4 379.2,594.7C378.1,592.9 377.0,591.3 376.1,589.5C375.1,587.7 374.3,585.9 373.5,584.1C372.7,582.2 372.0,580.4 371.3,578.6C370.6,576.8 369.9,575.0 369.2,573.2C368.6,571.4 367.9,569.6 367.3,567.8C366.7,566.0 366.2,564.2 365.6,562.4C365.0,560.7 364.3,558.9 363.8,557.1C363.2,555.4 362.7,553.6 362.2,551.7C361.8,549.9 361.4,548.1 361.0,546.2C360.7,544.4 360.4,542.5 360.2,540.7C360.0,538.8 359.8,536.9 359.7,535.0C359.7,533.1 359.7,531.2 359.7,529.3C359.8,527.4 360.1,525.6 360.2,523.6C360.3,521.7 360.3,519.8 360.2,517.8C360.0,515.8 359.7,513.7 359.5,511.6C359.3,509.5 359.0,507.3 359.0,505.2C359.0,503.0 359.4,501.0 359.6,498.8C359.8,496.6 360.0,494.4 360.3,492.1C360.5,489.8 360.6,487.3 360.9,485.0C361.3,482.6 362.0,480.4 362.4,477.9C362.9,475.4 362.9,472.6 363.4,469.9C363.9,467.3 364.3,464.2 365.5,462.1C366.7,459.9 368.8,458.5 370.7,456.9C372.6,455.4 374.8,454.2 376.8,452.9C378.9,451.5 380.8,450.1 382.8,448.7C384.8,447.4 386.8,446.1 388.9,444.7C390.9,443.4 392.9,442.1 395.0,440.6C397.0,439.2 398.9,437.5 401.0,436.0C403.1,434.5 405.2,433.1 407.4,431.7C409.6,430.3 411.9,428.9 414.3,427.7C416.6,426.6 419.1,425.6 421.5,424.7C424.0,423.7 426.5,422.7 429.1,421.9C431.7,421.2 434.3,420.7 437.0,420.2C439.6,419.7 442.4,418.9 445.1,418.9C447.7,418.9 450.4,419.5 453.1,420.0C455.7,420.6 458.3,421.5 460.9,422.4C463.4,423.3 465.9,424.4 468.3,425.7C470.6,426.9 472.9,428.5 475.1,429.9C477.4,431.4 479.5,432.9 481.7,434.4C483.8,435.9 485.8,437.4 487.8,439.0C489.8,440.6 491.6,442.4 493.6,444.0C495.5,445.5 497.5,446.9 499.4,448.4C501.4,449.8 503.6,450.9 505.3,452.6C507.1,454.4 508.7,456.3 509.7,458.7C510.7,461.1 510.9,464.3 511.4,467.0C511.9,469.7 512.3,472.3 512.7,474.8C513.2,477.3 513.6,479.6 514.0,481.9C514.5,484.2 515.0,486.4 515.3,488.6C515.5,490.8 515.5,493.2 515.5,495.4C515.4,497.6 515.1,499.9 515.0,502.1C514.9,504.2 514.9,506.2 514.7,508.2C514.6,510.2 514.3,512.1 514.1,514.0C513.9,515.9 513.7,517.8 513.6,519.6C513.6,521.4 513.7,523.0 513.9,524.8C514.0,526.5 514.4,528.1 514.6,529.9C514.8,531.6 515.0,533.3 515.1,535.0Z" fill="#cdcdcd"/><path d="M532.6,541.1Q532.9,554.5 526.5,566.7Q528.9,577.9 524.8,587.3Q524.8,599.9 518.2,610.4Q514.4,623.5 504.7,633.1Q495.3,643.7 481.6,649.2Q472.9,655.5 461.5,655.7Q447.9,659.3 433.4,656.3Q417.8,655.3 404.5,648.2Q392.9,644.4 385.8,635.4Q376.6,626.4 372.7,613.1Q364.6,606.4 362.4,596.3Q355.2,585.9 354.3,572.8Q347.5,563.3 347.4,552.0Q342.4,539.0 344.2,525.7Q339.3,515.7 341.3,505.9Q337.2,494.9 339.9,484.1Q337.0,471.7 340.8,460.3Q351.2,443.8 366.8,430.8Q375.9,424.7 388.9,424.2Q398.4,417.3 411.5,416.2Q421.1,409.8 432.9,409.8Q446.6,408.3 460.0,413.4Q471.1,414.8 479.5,422.3Q492.8,424.0 502.2,431.3Q518.2,434.5 529.3,442.2Q534.5,454.4 533.5,469.3Q538.2,484.9 536.1,501.0Q537.5,510.8 532.2,519.9Q535.8,530.7 532.6,541.1Z" fill="url(#htd)" opacity="0.4"/>
<path d="M497.2,535.0C497.4,536.3 497.6,537.6 497.8,539.0C497.9,540.3 498.0,541.7 498.1,543.0C498.1,544.4 498.1,545.8 498.1,547.1C498.0,548.5 497.9,549.9 497.8,551.3C497.6,552.7 497.4,554.0 497.1,555.4C496.8,556.8 496.5,558.2 496.1,559.5C495.6,560.9 495.2,562.2 494.6,563.5C494.1,564.8 493.3,566.0 492.9,567.4C492.4,568.8 492.2,570.4 491.8,571.9C491.5,573.5 491.3,575.2 490.9,576.9C490.6,578.6 490.3,580.4 489.8,582.2C489.4,583.9 488.9,585.7 488.2,587.4C487.5,589.1 486.7,590.8 485.8,592.3C484.9,593.9 483.6,595.0 482.6,596.6C481.5,598.2 480.6,600.0 479.6,601.9C478.7,603.8 477.8,606.1 476.7,608.1C475.5,610.1 474.4,612.4 473.0,614.1C471.6,615.9 469.9,617.4 468.2,618.8C466.6,620.3 464.7,621.5 462.9,623.0C461.1,624.5 459.3,626.4 457.4,627.8C455.4,629.2 453.3,630.8 451.2,631.6C449.0,632.4 446.7,632.3 444.4,632.4C442.1,632.6 439.9,632.5 437.6,632.5C435.3,632.4 433.0,632.8 430.8,632.1C428.6,631.4 426.5,630.0 424.5,628.4C422.6,626.9 420.8,624.6 419.2,622.6C417.5,620.5 416.1,618.2 414.6,616.2C413.1,614.3 411.8,612.4 410.4,610.8C408.9,609.3 407.3,608.3 405.9,606.9C404.6,605.4 403.4,603.7 402.3,602.0C401.2,600.3 400.3,598.5 399.3,596.9C398.2,595.3 397.3,593.7 396.2,592.3C395.2,590.9 393.9,589.8 392.9,588.4C391.9,587.1 390.9,585.6 390.1,584.2C389.2,582.7 388.5,581.2 387.8,579.6C387.1,578.1 386.5,576.6 385.8,575.1C385.2,573.6 384.7,572.0 384.1,570.6C383.4,569.1 382.8,567.7 382.1,566.3C381.4,564.9 380.7,563.5 380.1,562.1C379.5,560.7 379.0,559.2 378.5,557.8C378.0,556.3 377.5,554.8 377.1,553.3C376.7,551.8 376.4,550.3 376.1,548.8C375.8,547.3 375.6,545.7 375.4,544.2C375.2,542.7 375.1,541.1 375.1,539.6C375.0,538.1 375.0,536.5 375.0,535.0C375.0,533.5 375.1,531.9 375.3,530.4C375.4,528.9 375.6,527.4 375.8,525.8C376.1,524.3 376.4,522.8 376.7,521.3C377.0,519.8 377.2,518.3 377.5,516.8C377.8,515.3 378.0,513.7 378.3,512.2C378.5,510.6 378.8,509.0 379.3,507.5C379.7,506.0 380.2,504.4 380.7,502.9C381.2,501.4 382.0,500.0 382.5,498.5C383.1,496.9 383.4,495.2 383.9,493.5C384.4,491.8 384.8,490.1 385.4,488.3C386.0,486.6 386.6,484.8 387.4,483.2C388.2,481.6 389.3,480.3 390.2,478.6C391.1,476.9 391.9,475.1 392.7,473.2C393.5,471.3 394.2,469.0 395.2,467.1C396.2,465.1 397.3,463.3 398.6,461.5C399.8,459.7 401.3,458.4 402.7,456.4C404.0,454.5 405.1,451.9 406.6,449.9C408.1,447.9 409.8,446.1 411.5,444.3C413.3,442.5 415.1,440.6 417.1,439.1C419.1,437.6 421.2,436.3 423.4,435.2C425.6,434.1 427.9,433.4 430.2,432.7C432.6,431.9 435.0,431.5 437.4,430.9C439.8,430.2 442.2,429.2 444.7,428.8C447.2,428.3 449.7,428.1 452.2,428.4C454.7,428.6 457.1,429.6 459.5,430.3C461.8,431.0 464.3,431.5 466.5,432.8C468.7,434.1 470.6,436.2 472.5,438.0C474.4,439.8 476.2,441.8 477.9,443.7C479.6,445.5 481.5,447.0 482.9,449.2C484.3,451.3 485.2,454.3 486.2,456.7C487.3,459.1 488.2,461.4 489.1,463.6C490.1,465.8 491.3,467.5 491.9,469.8C492.5,472.2 492.5,475.1 492.7,477.6C492.8,480.2 492.4,483.0 492.5,485.2C492.7,487.4 493.1,489.2 493.5,491.0C493.8,492.8 494.6,494.2 494.9,495.9C495.2,497.5 495.3,499.3 495.3,501.1C495.3,502.8 495.1,504.6 494.9,506.3C494.8,508.0 494.4,509.7 494.2,511.3C493.9,512.9 493.6,514.5 493.4,515.9C493.2,517.4 492.9,518.8 493.0,520.1C493.2,521.4 493.9,522.5 494.3,523.7C494.7,524.9 495.1,526.1 495.4,527.3C495.8,528.6 496.1,529.8 496.4,531.1C496.7,532.4 497.0,533.7 497.2,535.0Z" fill="#7c7c7c"/>
<clipPath id="sacin"><path d="M497.2,535.0C497.4,536.3 497.6,537.6 497.8,539.0C497.9,540.3 498.0,541.7 498.1,543.0C498.1,544.4 498.1,545.8 498.1,547.1C498.0,548.5 497.9,549.9 497.8,551.3C497.6,552.7 497.4,554.0 497.1,555.4C496.8,556.8 496.5,558.2 496.1,559.5C495.6,560.9 495.2,562.2 494.6,563.5C494.1,564.8 493.3,566.0 492.9,567.4C492.4,568.8 492.2,570.4 491.8,571.9C491.5,573.5 491.3,575.2 490.9,576.9C490.6,578.6 490.3,580.4 489.8,582.2C489.4,583.9 488.9,585.7 488.2,587.4C487.5,589.1 486.7,590.8 485.8,592.3C484.9,593.9 483.6,595.0 482.6,596.6C481.5,598.2 480.6,600.0 479.6,601.9C478.7,603.8 477.8,606.1 476.7,608.1C475.5,610.1 474.4,612.4 473.0,614.1C471.6,615.9 469.9,617.4 468.2,618.8C466.6,620.3 464.7,621.5 462.9,623.0C461.1,624.5 459.3,626.4 457.4,627.8C455.4,629.2 453.3,630.8 451.2,631.6C449.0,632.4 446.7,632.3 444.4,632.4C442.1,632.6 439.9,632.5 437.6,632.5C435.3,632.4 433.0,632.8 430.8,632.1C428.6,631.4 426.5,630.0 424.5,628.4C422.6,626.9 420.8,624.6 419.2,622.6C417.5,620.5 416.1,618.2 414.6,616.2C413.1,614.3 411.8,612.4 410.4,610.8C408.9,609.3 407.3,608.3 405.9,606.9C404.6,605.4 403.4,603.7 402.3,602.0C401.2,600.3 400.3,598.5 399.3,596.9C398.2,595.3 397.3,593.7 396.2,592.3C395.2,590.9 393.9,589.8 392.9,588.4C391.9,587.1 390.9,585.6 390.1,584.2C389.2,582.7 388.5,581.2 387.8,579.6C387.1,578.1 386.5,576.6 385.8,575.1C385.2,573.6 384.7,572.0 384.1,570.6C383.4,569.1 382.8,567.7 382.1,566.3C381.4,564.9 380.7,563.5 380.1,562.1C379.5,560.7 379.0,559.2 378.5,557.8C378.0,556.3 377.5,554.8 377.1,553.3C376.7,551.8 376.4,550.3 376.1,548.8C375.8,547.3 375.6,545.7 375.4,544.2C375.2,542.7 375.1,541.1 375.1,539.6C375.0,538.1 375.0,536.5 375.0,535.0C375.0,533.5 375.1,531.9 375.3,530.4C375.4,528.9 375.6,527.4 375.8,525.8C376.1,524.3 376.4,522.8 376.7,521.3C377.0,519.8 377.2,518.3 377.5,516.8C377.8,515.3 378.0,513.7 378.3,512.2C378.5,510.6 378.8,509.0 379.3,507.5C379.7,506.0 380.2,504.4 380.7,502.9C381.2,501.4 382.0,500.0 382.5,498.5C383.1,496.9 383.4,495.2 383.9,493.5C384.4,491.8 384.8,490.1 385.4,488.3C386.0,486.6 386.6,484.8 387.4,483.2C388.2,481.6 389.3,480.3 390.2,478.6C391.1,476.9 391.9,475.1 392.7,473.2C393.5,471.3 394.2,469.0 395.2,467.1C396.2,465.1 397.3,463.3 398.6,461.5C399.8,459.7 401.3,458.4 402.7,456.4C404.0,454.5 405.1,451.9 406.6,449.9C408.1,447.9 409.8,446.1 411.5,444.3C413.3,442.5 415.1,440.6 417.1,439.1C419.1,437.6 421.2,436.3 423.4,435.2C425.6,434.1 427.9,433.4 430.2,432.7C432.6,431.9 435.0,431.5 437.4,430.9C439.8,430.2 442.2,429.2 444.7,428.8C447.2,428.3 449.7,428.1 452.2,428.4C454.7,428.6 457.1,429.6 459.5,430.3C461.8,431.0 464.3,431.5 466.5,432.8C468.7,434.1 470.6,436.2 472.5,438.0C474.4,439.8 476.2,441.8 477.9,443.7C479.6,445.5 481.5,447.0 482.9,449.2C484.3,451.3 485.2,454.3 486.2,456.7C487.3,459.1 488.2,461.4 489.1,463.6C490.1,465.8 491.3,467.5 491.9,469.8C492.5,472.2 492.5,475.1 492.7,477.6C492.8,480.2 492.4,483.0 492.5,485.2C492.7,487.4 493.1,489.2 493.5,491.0C493.8,492.8 494.6,494.2 494.9,495.9C495.2,497.5 495.3,499.3 495.3,501.1C495.3,502.8 495.1,504.6 494.9,506.3C494.8,508.0 494.4,509.7 494.2,511.3C493.9,512.9 493.6,514.5 493.4,515.9C493.2,517.4 492.9,518.8 493.0,520.1C493.2,521.4 493.9,522.5 494.3,523.7C494.7,524.9 495.1,526.1 495.4,527.3C495.8,528.6 496.1,529.8 496.4,531.1C496.7,532.4 497.0,533.7 497.2,535.0Z"/></clipPath>
<g clip-path="url(#sacin)">
<ellipse cx="455" cy="575" rx="24" ry="36" fill="#888" filter="url(#soft3)"/>
<ellipse cx="390" cy="530" rx="11" ry="75" fill="#545454" filter="url(#soft3)"/>
<ellipse cx="491" cy="520" rx="8" ry="65" fill="#5a5a5a" filter="url(#soft3)"/>
<path d="M421,430 L445,430 L446,470 L436,500 L424,470Z" fill="#585858" filter="url(#soft2)"/>
</g>
<path d="M497.2,535.0C497.4,536.3 497.6,537.6 497.8,539.0C497.9,540.3 498.0,541.7 498.1,543.0C498.1,544.4 498.1,545.8 498.1,547.1C498.0,548.5 497.9,549.9 497.8,551.3C497.6,552.7 497.4,554.0 497.1,555.4C496.8,556.8 496.5,558.2 496.1,559.5C495.6,560.9 495.2,562.2 494.6,563.5C494.1,564.8 493.3,566.0 492.9,567.4C492.4,568.8 492.2,570.4 491.8,571.9C491.5,573.5 491.3,575.2 490.9,576.9C490.6,578.6 490.3,580.4 489.8,582.2C489.4,583.9 488.9,585.7 488.2,587.4C487.5,589.1 486.7,590.8 485.8,592.3C484.9,593.9 483.6,595.0 482.6,596.6C481.5,598.2 480.6,600.0 479.6,601.9C478.7,603.8 477.8,606.1 476.7,608.1C475.5,610.1 474.4,612.4 473.0,614.1C471.6,615.9 469.9,617.4 468.2,618.8C466.6,620.3 464.7,621.5 462.9,623.0C461.1,624.5 459.3,626.4 457.4,627.8C455.4,629.2 453.3,630.8 451.2,631.6C449.0,632.4 446.7,632.3 444.4,632.4C442.1,632.6 439.9,632.5 437.6,632.5C435.3,632.4 433.0,632.8 430.8,632.1C428.6,631.4 426.5,630.0 424.5,628.4C422.6,626.9 420.8,624.6 419.2,622.6C417.5,620.5 416.1,618.2 414.6,616.2C413.1,614.3 411.8,612.4 410.4,610.8C408.9,609.3 407.3,608.3 405.9,606.9C404.6,605.4 403.4,603.7 402.3,602.0C401.2,600.3 400.3,598.5 399.3,596.9C398.2,595.3 397.3,593.7 396.2,592.3C395.2,590.9 393.9,589.8 392.9,588.4C391.9,587.1 390.9,585.6 390.1,584.2C389.2,582.7 388.5,581.2 387.8,579.6C387.1,578.1 386.5,576.6 385.8,575.1C385.2,573.6 384.7,572.0 384.1,570.6C383.4,569.1 382.8,567.7 382.1,566.3C381.4,564.9 380.7,563.5 380.1,562.1C379.5,560.7 379.0,559.2 378.5,557.8C378.0,556.3 377.5,554.8 377.1,553.3C376.7,551.8 376.4,550.3 376.1,548.8C375.8,547.3 375.6,545.7 375.4,544.2C375.2,542.7 375.1,541.1 375.1,539.6C375.0,538.1 375.0,536.5 375.0,535.0C375.0,533.5 375.1,531.9 375.3,530.4C375.4,528.9 375.6,527.4 375.8,525.8C376.1,524.3 376.4,522.8 376.7,521.3C377.0,519.8 377.2,518.3 377.5,516.8C377.8,515.3 378.0,513.7 378.3,512.2C378.5,510.6 378.8,509.0 379.3,507.5C379.7,506.0 380.2,504.4 380.7,502.9C381.2,501.4 382.0,500.0 382.5,498.5C383.1,496.9 383.4,495.2 383.9,493.5C384.4,491.8 384.8,490.1 385.4,488.3C386.0,486.6 386.6,484.8 387.4,483.2C388.2,481.6 389.3,480.3 390.2,478.6C391.1,476.9 391.9,475.1 392.7,473.2C393.5,471.3 394.2,469.0 395.2,467.1C396.2,465.1 397.3,463.3 398.6,461.5C399.8,459.7 401.3,458.4 402.7,456.4C404.0,454.5 405.1,451.9 406.6,449.9C408.1,447.9 409.8,446.1 411.5,444.3C413.3,442.5 415.1,440.6 417.1,439.1C419.1,437.6 421.2,436.3 423.4,435.2C425.6,434.1 427.9,433.4 430.2,432.7C432.6,431.9 435.0,431.5 437.4,430.9C439.8,430.2 442.2,429.2 444.7,428.8C447.2,428.3 449.7,428.1 452.2,428.4C454.7,428.6 457.1,429.6 459.5,430.3C461.8,431.0 464.3,431.5 466.5,432.8C468.7,434.1 470.6,436.2 472.5,438.0C474.4,439.8 476.2,441.8 477.9,443.7C479.6,445.5 481.5,447.0 482.9,449.2C484.3,451.3 485.2,454.3 486.2,456.7C487.3,459.1 488.2,461.4 489.1,463.6C490.1,465.8 491.3,467.5 491.9,469.8C492.5,472.2 492.5,475.1 492.7,477.6C492.8,480.2 492.4,483.0 492.5,485.2C492.7,487.4 493.1,489.2 493.5,491.0C493.8,492.8 494.6,494.2 494.9,495.9C495.2,497.5 495.3,499.3 495.3,501.1C495.3,502.8 495.1,504.6 494.9,506.3C494.8,508.0 494.4,509.7 494.2,511.3C493.9,512.9 493.6,514.5 493.4,515.9C493.2,517.4 492.9,518.8 493.0,520.1C493.2,521.4 493.9,522.5 494.3,523.7C494.7,524.9 495.1,526.1 495.4,527.3C495.8,528.6 496.1,529.8 496.4,531.1C496.7,532.4 497.0,533.7 497.2,535.0Z" fill="url(#ht)"/>
<path d="M532.6,541.1Q532.9,554.5 526.5,566.7Q528.9,577.9 524.8,587.3Q524.8,599.9 518.2,610.4Q514.4,623.5 504.7,633.1Q495.3,643.7 481.6,649.2Q472.9,655.5 461.5,655.7Q447.9,659.3 433.4,656.3Q417.8,655.3 404.5,648.2Q392.9,644.4 385.8,635.4Q376.6,626.4 372.7,613.1Q364.6,606.4 362.4,596.3Q355.2,585.9 354.3,572.8Q347.5,563.3 347.4,552.0Q342.4,539.0 344.2,525.7Q339.3,515.7 341.3,505.9Q337.2,494.9 339.9,484.1Q337.0,471.7 340.8,460.3Q351.2,443.8 366.8,430.8Q375.9,424.7 388.9,424.2Q398.4,417.3 411.5,416.2Q421.1,409.8 432.9,409.8Q446.6,408.3 460.0,413.4Q471.1,414.8 479.5,422.3Q492.8,424.0 502.2,431.3Q518.2,434.5 529.3,442.2Q534.5,454.4 533.5,469.3Q538.2,484.9 536.1,501.0Q537.5,510.8 532.2,519.9Q535.8,530.7 532.6,541.1Z" fill="none" stroke="#3c3c3c" stroke-width="4.2" stroke-linejoin="round"/>
<path d="M515.1,535.0C515.1,536.7 515.2,538.5 515.1,540.2C515.1,541.9 515.0,543.6 514.9,545.4C514.7,547.1 514.5,548.8 514.2,550.6C513.9,552.3 513.6,554.0 513.2,555.7C512.8,557.4 512.2,559.1 511.8,560.8C511.4,562.5 511.1,564.3 510.8,566.1C510.5,567.9 510.3,569.8 509.9,571.6C509.6,573.5 509.2,575.4 508.8,577.4C508.4,579.3 508.0,581.3 507.5,583.3C507.0,585.3 506.2,587.2 505.7,589.2C505.1,591.3 504.6,593.6 504.0,595.9C503.5,598.2 503.0,600.6 502.1,602.9C501.3,605.1 500.3,607.3 499.0,609.2C497.7,611.1 495.9,612.4 494.4,614.1C492.8,615.8 491.4,617.7 489.8,619.5C488.2,621.3 486.6,623.1 484.8,624.9C483.1,626.7 481.4,628.5 479.5,630.2C477.6,631.9 475.5,633.5 473.4,634.8C471.3,636.2 469.0,637.2 466.8,638.4C464.5,639.5 462.2,640.7 459.8,641.6C457.4,642.6 455.0,643.5 452.5,644.1C450.0,644.6 447.4,644.6 444.8,644.7C442.3,644.8 439.7,644.8 437.2,644.6C434.6,644.5 432.0,644.4 429.6,643.7C427.1,643.1 424.7,642.1 422.3,640.9C420.0,639.7 417.8,638.3 415.6,636.8C413.5,635.3 411.5,633.6 409.5,632.1C407.5,630.5 405.6,628.9 403.6,627.5C401.7,626.0 399.7,624.9 398.0,623.2C396.2,621.6 394.7,619.6 393.3,617.7C391.8,615.7 390.6,613.5 389.4,611.5C388.2,609.5 387.1,607.4 385.9,605.5C384.8,603.6 383.6,601.8 382.5,600.0C381.4,598.2 380.3,596.4 379.2,594.7C378.1,592.9 377.0,591.3 376.1,589.5C375.1,587.7 374.3,585.9 373.5,584.1C372.7,582.2 372.0,580.4 371.3,578.6C370.6,576.8 369.9,575.0 369.2,573.2C368.6,571.4 367.9,569.6 367.3,567.8C366.7,566.0 366.2,564.2 365.6,562.4C365.0,560.7 364.3,558.9 363.8,557.1C363.2,555.4 362.7,553.6 362.2,551.7C361.8,549.9 361.4,548.1 361.0,546.2C360.7,544.4 360.4,542.5 360.2,540.7C360.0,538.8 359.8,536.9 359.7,535.0C359.7,533.1 359.7,531.2 359.7,529.3C359.8,527.4 360.1,525.6 360.2,523.6C360.3,521.7 360.3,519.8 360.2,517.8C360.0,515.8 359.7,513.7 359.5,511.6C359.3,509.5 359.0,507.3 359.0,505.2C359.0,503.0 359.4,501.0 359.6,498.8C359.8,496.6 360.0,494.4 360.3,492.1C360.5,489.8 360.6,487.3 360.9,485.0C361.3,482.6 362.0,480.4 362.4,477.9C362.9,475.4 362.9,472.6 363.4,469.9C363.9,467.3 364.3,464.2 365.5,462.1C366.7,459.9 368.8,458.5 370.7,456.9C372.6,455.4 374.8,454.2 376.8,452.9C378.9,451.5 380.8,450.1 382.8,448.7C384.8,447.4 386.8,446.1 388.9,444.7C390.9,443.4 392.9,442.1 395.0,440.6C397.0,439.2 398.9,437.5 401.0,436.0C403.1,434.5 405.2,433.1 407.4,431.7C409.6,430.3 411.9,428.9 414.3,427.7C416.6,426.6 419.1,425.6 421.5,424.7C424.0,423.7 426.5,422.7 429.1,421.9C431.7,421.2 434.3,420.7 437.0,420.2C439.6,419.7 442.4,418.9 445.1,418.9C447.7,418.9 450.4,419.5 453.1,420.0C455.7,420.6 458.3,421.5 460.9,422.4C463.4,423.3 465.9,424.4 468.3,425.7C470.6,426.9 472.9,428.5 475.1,429.9C477.4,431.4 479.5,432.9 481.7,434.4C483.8,435.9 485.8,437.4 487.8,439.0C489.8,440.6 491.6,442.4 493.6,444.0C495.5,445.5 497.5,446.9 499.4,448.4C501.4,449.8 503.6,450.9 505.3,452.6C507.1,454.4 508.7,456.3 509.7,458.7C510.7,461.1 510.9,464.3 511.4,467.0C511.9,469.7 512.3,472.3 512.7,474.8C513.2,477.3 513.6,479.6 514.0,481.9C514.5,484.2 515.0,486.4 515.3,488.6C515.5,490.8 515.5,493.2 515.5,495.4C515.4,497.6 515.1,499.9 515.0,502.1C514.9,504.2 514.9,506.2 514.7,508.2C514.6,510.2 514.3,512.1 514.1,514.0C513.9,515.9 513.7,517.8 513.6,519.6C513.6,521.4 513.7,523.0 513.9,524.8C514.0,526.5 514.4,528.1 514.6,529.9C514.8,531.6 515.0,533.3 515.1,535.0Z" fill="none" stroke="#3c3c3c" stroke-width="4.2"/>
<path d="M497.2,535.0C497.4,536.3 497.6,537.6 497.8,539.0C497.9,540.3 498.0,541.7 498.1,543.0C498.1,544.4 498.1,545.8 498.1,547.1C498.0,548.5 497.9,549.9 497.8,551.3C497.6,552.7 497.4,554.0 497.1,555.4C496.8,556.8 496.5,558.2 496.1,559.5C495.6,560.9 495.2,562.2 494.6,563.5C494.1,564.8 493.3,566.0 492.9,567.4C492.4,568.8 492.2,570.4 491.8,571.9C491.5,573.5 491.3,575.2 490.9,576.9C490.6,578.6 490.3,580.4 489.8,582.2C489.4,583.9 488.9,585.7 488.2,587.4C487.5,589.1 486.7,590.8 485.8,592.3C484.9,593.9 483.6,595.0 482.6,596.6C481.5,598.2 480.6,600.0 479.6,601.9C478.7,603.8 477.8,606.1 476.7,608.1C475.5,610.1 474.4,612.4 473.0,614.1C471.6,615.9 469.9,617.4 468.2,618.8C466.6,620.3 464.7,621.5 462.9,623.0C461.1,624.5 459.3,626.4 457.4,627.8C455.4,629.2 453.3,630.8 451.2,631.6C449.0,632.4 446.7,632.3 444.4,632.4C442.1,632.6 439.9,632.5 437.6,632.5C435.3,632.4 433.0,632.8 430.8,632.1C428.6,631.4 426.5,630.0 424.5,628.4C422.6,626.9 420.8,624.6 419.2,622.6C417.5,620.5 416.1,618.2 414.6,616.2C413.1,614.3 411.8,612.4 410.4,610.8C408.9,609.3 407.3,608.3 405.9,606.9C404.6,605.4 403.4,603.7 402.3,602.0C401.2,600.3 400.3,598.5 399.3,596.9C398.2,595.3 397.3,593.7 396.2,592.3C395.2,590.9 393.9,589.8 392.9,588.4C391.9,587.1 390.9,585.6 390.1,584.2C389.2,582.7 388.5,581.2 387.8,579.6C387.1,578.1 386.5,576.6 385.8,575.1C385.2,573.6 384.7,572.0 384.1,570.6C383.4,569.1 382.8,567.7 382.1,566.3C381.4,564.9 380.7,563.5 380.1,562.1C379.5,560.7 379.0,559.2 378.5,557.8C378.0,556.3 377.5,554.8 377.1,553.3C376.7,551.8 376.4,550.3 376.1,548.8C375.8,547.3 375.6,545.7 375.4,544.2C375.2,542.7 375.1,541.1 375.1,539.6C375.0,538.1 375.0,536.5 375.0,535.0C375.0,533.5 375.1,531.9 375.3,530.4C375.4,528.9 375.6,527.4 375.8,525.8C376.1,524.3 376.4,522.8 376.7,521.3C377.0,519.8 377.2,518.3 377.5,516.8C377.8,515.3 378.0,513.7 378.3,512.2C378.5,510.6 378.8,509.0 379.3,507.5C379.7,506.0 380.2,504.4 380.7,502.9C381.2,501.4 382.0,500.0 382.5,498.5C383.1,496.9 383.4,495.2 383.9,493.5C384.4,491.8 384.8,490.1 385.4,488.3C386.0,486.6 386.6,484.8 387.4,483.2C388.2,481.6 389.3,480.3 390.2,478.6C391.1,476.9 391.9,475.1 392.7,473.2C393.5,471.3 394.2,469.0 395.2,467.1C396.2,465.1 397.3,463.3 398.6,461.5C399.8,459.7 401.3,458.4 402.7,456.4C404.0,454.5 405.1,451.9 406.6,449.9C408.1,447.9 409.8,446.1 411.5,444.3C413.3,442.5 415.1,440.6 417.1,439.1C419.1,437.6 421.2,436.3 423.4,435.2C425.6,434.1 427.9,433.4 430.2,432.7C432.6,431.9 435.0,431.5 437.4,430.9C439.8,430.2 442.2,429.2 444.7,428.8C447.2,428.3 449.7,428.1 452.2,428.4C454.7,428.6 457.1,429.6 459.5,430.3C461.8,431.0 464.3,431.5 466.5,432.8C468.7,434.1 470.6,436.2 472.5,438.0C474.4,439.8 476.2,441.8 477.9,443.7C479.6,445.5 481.5,447.0 482.9,449.2C484.3,451.3 485.2,454.3 486.2,456.7C487.3,459.1 488.2,461.4 489.1,463.6C490.1,465.8 491.3,467.5 491.9,469.8C492.5,472.2 492.5,475.1 492.7,477.6C492.8,480.2 492.4,483.0 492.5,485.2C492.7,487.4 493.1,489.2 493.5,491.0C493.8,492.8 494.6,494.2 494.9,495.9C495.2,497.5 495.3,499.3 495.3,501.1C495.3,502.8 495.1,504.6 494.9,506.3C494.8,508.0 494.4,509.7 494.2,511.3C493.9,512.9 493.6,514.5 493.4,515.9C493.2,517.4 492.9,518.8 493.0,520.1C493.2,521.4 493.9,522.5 494.3,523.7C494.7,524.9 495.1,526.1 495.4,527.3C495.8,528.6 496.1,529.8 496.4,531.1C496.7,532.4 497.0,533.7 497.2,535.0Z" fill="none" stroke="#3c3c3c" stroke-width="3.8"/>
<path d="M515.1,540.7L532.6,541.1" stroke="#3c3c3c" stroke-width="4.2"/>
<path d="M532.6,541.1L541.4,541.3" stroke="#3c3c3c" stroke-width="4.2"/>
<path d="M541.5,536.1L541.3,546.5" stroke="#3c3c3c" stroke-width="4.6" stroke-linecap="round"/>
<path d="M511.5,561.9L526.5,566.7" stroke="#3c3c3c" stroke-width="4.2"/>
<path d="M526.5,566.7L534.9,569.4" stroke="#3c3c3c" stroke-width="4.2"/>
<path d="M536.4,564.5L533.3,574.4" stroke="#3c3c3c" stroke-width="4.6" stroke-linecap="round"/>
<path d="M507.6,583.0L524.8,587.3" stroke="#3c3c3c" stroke-width="4.2"/>
<path d="M524.8,587.3L533.3,589.4" stroke="#3c3c3c" stroke-width="4.2"/>
<path d="M534.6,584.4L532.1,594.5" stroke="#3c3c3c" stroke-width="4.6" stroke-linecap="round"/>
<path d="M501.7,603.9L518.2,610.4" stroke="#3c3c3c" stroke-width="4.2"/>
<path d="M518.2,610.4L526.4,613.6" stroke="#3c3c3c" stroke-width="4.2"/>
<path d="M528.3,608.8L524.5,618.5" stroke="#3c3c3c" stroke-width="4.6" stroke-linecap="round"/>
<path d="M489.3,620.0L504.7,633.1" stroke="#3c3c3c" stroke-width="4.2"/>
<path d="M504.7,633.1L511.4,638.8" stroke="#3c3c3c" stroke-width="4.2"/>
<path d="M514.8,634.9L508.1,642.8" stroke="#3c3c3c" stroke-width="4.6" stroke-linecap="round"/>
<path d="M473.4,634.8L481.6,649.2" stroke="#3c3c3c" stroke-width="4.2"/>
<path d="M481.6,649.2L485.9,656.8" stroke="#3c3c3c" stroke-width="4.2"/>
<path d="M490.5,654.2L481.4,659.4" stroke="#3c3c3c" stroke-width="4.6" stroke-linecap="round"/>
<path d="M457.0,642.7L461.5,655.7" stroke="#3c3c3c" stroke-width="4.2"/>
<path d="M461.5,655.7L464.4,664.0" stroke="#3c3c3c" stroke-width="4.2"/>
<path d="M469.3,662.3L459.5,665.7" stroke="#3c3c3c" stroke-width="4.6" stroke-linecap="round"/>
<path d="M434.6,644.4L433.4,656.3" stroke="#3c3c3c" stroke-width="4.2"/>
<path d="M433.4,656.3L432.5,665.1" stroke="#3c3c3c" stroke-width="4.2"/>
<path d="M437.7,665.6L427.4,664.6" stroke="#3c3c3c" stroke-width="4.6" stroke-linecap="round"/>
<path d="M413.9,635.6L404.5,648.2" stroke="#3c3c3c" stroke-width="4.2"/>
<path d="M404.5,648.2L399.2,655.3" stroke="#3c3c3c" stroke-width="4.2"/>
<path d="M403.4,658.4L395.1,652.2" stroke="#3c3c3c" stroke-width="4.6" stroke-linecap="round"/>
<path d="M397.9,623.2L385.8,635.4" stroke="#3c3c3c" stroke-width="4.2"/>
<path d="M385.8,635.4L379.5,641.7" stroke="#3c3c3c" stroke-width="4.2"/>
<path d="M383.2,645.3L375.9,638.0" stroke="#3c3c3c" stroke-width="4.6" stroke-linecap="round"/>
<path d="M385.6,605.0L372.7,613.1" stroke="#3c3c3c" stroke-width="4.2"/>
<path d="M372.7,613.1L365.2,617.7" stroke="#3c3c3c" stroke-width="4.2"/>
<path d="M368.0,622.2L362.5,613.3" stroke="#3c3c3c" stroke-width="4.6" stroke-linecap="round"/>
<path d="M375.9,589.2L362.4,596.3" stroke="#3c3c3c" stroke-width="4.2"/>
<path d="M362.4,596.3L354.6,600.4" stroke="#3c3c3c" stroke-width="4.2"/>
<path d="M357.1,605.0L352.2,595.8" stroke="#3c3c3c" stroke-width="4.6" stroke-linecap="round"/>
<path d="M367.6,568.4L354.3,572.8" stroke="#3c3c3c" stroke-width="4.2"/>
<path d="M354.3,572.8L345.9,575.6" stroke="#3c3c3c" stroke-width="4.2"/>
<path d="M347.6,580.6L344.3,570.7" stroke="#3c3c3c" stroke-width="4.6" stroke-linecap="round"/>
<path d="M361.6,548.9L347.4,552.0" stroke="#3c3c3c" stroke-width="4.2"/>
<path d="M347.4,552.0L338.8,553.8" stroke="#3c3c3c" stroke-width="4.2"/>
<path d="M339.9,558.9L337.7,548.7" stroke="#3c3c3c" stroke-width="4.6" stroke-linecap="round"/>
<path d="M359.9,526.8L344.2,525.7" stroke="#3c3c3c" stroke-width="4.2"/>
<path d="M344.2,525.7L335.4,525.0" stroke="#3c3c3c" stroke-width="4.2"/>
<path d="M335.0,530.2L335.8,519.8" stroke="#3c3c3c" stroke-width="4.6" stroke-linecap="round"/>
<path d="M359.0,505.6L341.3,505.9" stroke="#3c3c3c" stroke-width="4.2"/>
<path d="M341.3,505.9L332.5,506.1" stroke="#3c3c3c" stroke-width="4.2"/>
<path d="M332.6,511.3L332.4,500.9" stroke="#3c3c3c" stroke-width="4.6" stroke-linecap="round"/>
<path d="M360.8,486.4L339.9,484.1" stroke="#3c3c3c" stroke-width="4.2"/>
<path d="M339.9,484.1L331.1,483.2" stroke="#3c3c3c" stroke-width="4.2"/>
<path d="M330.6,488.3L331.7,478.0" stroke="#3c3c3c" stroke-width="4.6" stroke-linecap="round"/>
<path d="M364.6,464.9L340.8,460.3" stroke="#3c3c3c" stroke-width="4.2"/>
<path d="M340.8,460.3L332.2,458.6" stroke="#3c3c3c" stroke-width="4.2"/>
<path d="M331.2,463.7L333.2,453.5" stroke="#3c3c3c" stroke-width="4.6" stroke-linecap="round"/>
<path d="M379.8,450.6L366.8,430.8" stroke="#3c3c3c" stroke-width="4.2"/>
<path d="M366.8,430.8L361.9,423.4" stroke="#3c3c3c" stroke-width="4.2"/>
<path d="M357.6,426.3L366.3,420.6" stroke="#3c3c3c" stroke-width="4.6" stroke-linecap="round"/>
<path d="M399.1,437.5L388.9,424.2" stroke="#3c3c3c" stroke-width="4.2"/>
<path d="M416.6,426.5L411.5,416.2" stroke="#3c3c3c" stroke-width="4.2"/>
<path d="M434.8,420.7L432.9,409.8" stroke="#3c3c3c" stroke-width="4.2"/>
<path d="M457.7,421.3L460.0,413.4" stroke="#3c3c3c" stroke-width="4.2"/>
<path d="M474.7,429.6L479.5,422.3" stroke="#3c3c3c" stroke-width="4.2"/>
<path d="M492.8,443.4L502.2,431.3" stroke="#3c3c3c" stroke-width="4.2"/>
<path d="M508.1,455.5L529.3,442.2" stroke="#3c3c3c" stroke-width="4.2"/>
<path d="M512.9,475.4L533.5,469.3" stroke="#3c3c3c" stroke-width="4.2"/>
<path d="M515.2,499.3L536.1,501.0" stroke="#3c3c3c" stroke-width="4.2"/>
<path d="M536.1,501.0L544.9,501.8" stroke="#3c3c3c" stroke-width="4.2"/>
<path d="M545.3,496.6L544.5,506.9" stroke="#3c3c3c" stroke-width="4.6" stroke-linecap="round"/>
<path d="M513.7,518.2L532.2,519.9" stroke="#3c3c3c" stroke-width="4.2"/>
<path d="M532.2,519.9L540.9,520.7" stroke="#3c3c3c" stroke-width="4.2"/>
<path d="M541.4,515.6L540.4,525.9" stroke="#3c3c3c" stroke-width="4.6" stroke-linecap="round"/>
<path d="M514.5,548.8L497.9,546.5" stroke="#3c3c3c" stroke-width="4.2"/>
<path d="M509.2,575.4L491.9,571.5" stroke="#3c3c3c" stroke-width="4.2"/>
<path d="M503.6,597.6L485.2,593.1" stroke="#3c3c3c" stroke-width="4.2"/>
<path d="M491.4,617.5L477.7,605.9" stroke="#3c3c3c" stroke-width="4.2"/>
<path d="M473.1,635.0L465.1,620.9" stroke="#3c3c3c" stroke-width="4.2"/>
<path d="M449.4,644.5L448.6,632.0" stroke="#3c3c3c" stroke-width="4.2"/>
<path d="M428.1,643.4L431.9,632.0" stroke="#3c3c3c" stroke-width="4.2"/>
<path d="M403.8,627.6L413.5,614.5" stroke="#3c3c3c" stroke-width="4.2"/>
<path d="M390.4,613.2L404.3,604.8" stroke="#3c3c3c" stroke-width="4.2"/>
<path d="M375.9,589.1L389.1,582.1" stroke="#3c3c3c" stroke-width="4.2"/>
<path d="M366.7,565.8L380.0,561.6" stroke="#3c3c3c" stroke-width="4.2"/>
<path d="M361.0,546.1L375.5,543.5" stroke="#3c3c3c" stroke-width="4.2"/>
<path d="M360.2,517.8L377.6,516.4" stroke="#3c3c3c" stroke-width="4.2"/>
<path d="M360.0,495.4L383.0,497.2" stroke="#3c3c3c" stroke-width="4.2"/>
<path d="M363.4,470.0L391.4,476.6" stroke="#3c3c3c" stroke-width="4.2"/>
<path d="M375.9,453.7L392.5,473.7" stroke="#3c3c3c" stroke-width="4.2"/>
<path d="M396.3,439.6L405.5,451.8" stroke="#3c3c3c" stroke-width="4.2"/>
<path d="M417.5,426.1L421.9,435.9" stroke="#3c3c3c" stroke-width="4.2"/>
<path d="M444.9,418.9L445.8,428.6" stroke="#3c3c3c" stroke-width="4.2"/>
<path d="M465.0,424.1L461.9,431.2" stroke="#3c3c3c" stroke-width="4.2"/>
<path d="M487.8,439.0L480.7,446.4" stroke="#3c3c3c" stroke-width="4.2"/>
<path d="M507.7,454.9L491.5,468.6" stroke="#3c3c3c" stroke-width="4.2"/>
<path d="M513.6,478.5L492.5,481.7" stroke="#3c3c3c" stroke-width="4.2"/>
<path d="M515.2,500.0L495.0,498.3" stroke="#3c3c3c" stroke-width="4.2"/>
<path d="M513.8,524.5L495.4,528.0" stroke="#3c3c3c" stroke-width="4.2"/>
<path d="M421,400 L444.6,400 L445,440 L420,440Z" fill="#5a5a5a"/>
<path d="M424.0,452.0C425.2,448.3 426.7,442.7 430.0,440.0C433.3,437.3 438.7,436.3 444.0,436.0C449.3,435.7 456.7,436.3 462.0,438.0C467.3,439.7 473.3,442.7 476.0,446.0C478.7,449.3 478.7,454.0 478.0,458.0C477.3,462.0 474.7,467.0 472.0,470.0C469.3,473.0 465.3,473.7 462.0,476.0C458.7,478.3 455.7,483.3 452.0,484.0C448.3,484.7 444.0,482.0 440.0,480.0C436.0,478.0 430.8,475.0 428.0,472.0C425.2,469.0 423.7,465.3 423.0,462.0C422.3,458.7 422.8,455.7 424.0,452.0Z" fill="#363636" filter="url(#soft)"/>
<path d="M416.0,626.0C412.2,622.9 415.6,612.5 417.0,608.0C418.4,603.5 421.6,598.6 425.0,596.0C428.4,593.4 435.5,590.8 440.0,590.5C444.5,590.2 451.2,591.7 455.0,594.0C458.8,596.3 463.1,601.2 465.0,606.0C466.9,610.8 471.4,622.5 468.0,626.0C464.6,629.5 449.8,629.0 442.0,629.0C434.2,629.0 419.8,629.1 416.0,626.0Z" fill="#343434" filter="url(#soft)"/>
<circle cx="447.5" cy="536.5" r="19.5" fill="#c2c2c2" stroke="#4a4a4a" stroke-width="2"/>
<circle cx="448" cy="536.5" r="10.5" fill="#b6b6b6" stroke="#8a8a8a" stroke-width="1.2"/>
<circle cx="448.5" cy="536" r="5.4" fill="#4c4c4c"/>
<circle cx="433.5" cy="485" r="5.6" fill="#8a8a8a" stroke="#383838" stroke-width="2.4"/>
<circle cx="435.5" cy="484" r="1.8" fill="#d8d8d8"/>
<circle cx="421.5" cy="509.5" r="7.8" fill="#6e6e6e" stroke="#343434" stroke-width="2.8"/>
<path d="M424.5,505.5 q3,3 0,7" stroke="#dcdcdc" stroke-width="1.8" fill="none"/>
<path d="M322,484 L430,484.5 M322,486.5 L414,507" stroke="#3e3e3e" stroke-width="2.1" fill="none"/>
<path d="M339,626.6 L446,540" stroke="#3e3e3e" stroke-width="2.1" fill="none"/>
<path d="M484.5,409.5 L456,446" stroke="#3e3e3e" stroke-width="2" fill="none"/>
</g>
<g filter="url(#soft)">
<path d="M637.6,606.0C639.3,610.0 648.8,616.0 655.0,620.0C661.2,624.0 668.0,627.1 675.0,630.0C682.0,632.9 689.7,635.7 697.0,637.5C704.3,639.3 711.5,640.7 719.0,641.0C726.5,641.3 734.7,640.6 742.0,639.5C749.3,638.4 756.5,636.6 763.0,634.5C769.5,632.4 775.5,629.6 781.0,627.0C786.5,624.4 790.2,623.2 796.0,619.0C801.8,614.8 814.9,605.3 815.6,601.5C816.3,597.7 805.9,597.9 800.0,596.0C794.1,594.1 793.3,591.8 780.0,590.0C766.7,588.2 740.0,585.0 720.0,585.0C700.0,585.0 672.5,588.2 660.0,590.0C647.5,591.8 648.7,593.3 645.0,596.0C641.3,598.7 635.9,602.0 637.6,606.0Z" fill="#c0c0c0"/>
<path d="M637.6,606.0C639.3,610.0 648.8,616.0 655.0,620.0C661.2,624.0 668.0,627.1 675.0,630.0C682.0,632.9 689.7,635.7 697.0,637.5C704.3,639.3 711.5,640.7 719.0,641.0C726.5,641.3 734.7,640.6 742.0,639.5C749.3,638.4 756.5,636.6 763.0,634.5C769.5,632.4 775.5,629.6 781.0,627.0C786.5,624.4 790.2,623.2 796.0,619.0C801.8,614.8 814.9,605.3 815.6,601.5C816.3,597.7 805.9,597.9 800.0,596.0C794.1,594.1 793.3,591.8 780.0,590.0C766.7,588.2 740.0,585.0 720.0,585.0C700.0,585.0 672.5,588.2 660.0,590.0C647.5,591.8 648.7,593.3 645.0,596.0C641.3,598.7 635.9,602.0 637.6,606.0Z" fill="url(#htd)" opacity="0.35"/>
<path d="M637.6,606 C655,621 690,638 719,641 C750,640 785,628 815.6,601.5" fill="none" stroke="#555" stroke-width="3.4" stroke-linecap="round"/>
<clipPath id="pbc"><path d="M693.0,330.0C692.5,333.5 695.7,339.8 697.0,345.0C698.3,350.2 699.9,354.2 701.0,361.0C702.1,367.8 704.4,377.0 703.6,385.6C702.8,394.2 700.4,402.3 696.0,412.5C691.6,422.7 683.2,436.6 677.0,446.8C670.8,457.1 662.5,467.3 659.0,474.0C655.5,480.7 657.5,483.6 655.7,487.0C653.9,490.4 650.3,487.2 648.0,494.5C645.7,501.8 642.5,518.8 642.0,531.0C641.5,543.2 643.0,558.3 644.7,567.8C646.4,577.3 649.1,581.6 652.0,588.0C654.9,594.4 657.0,600.3 662.0,606.0C667.0,611.7 673.0,618.0 682.0,622.0C691.0,626.0 704.7,629.7 716.0,630.0C727.3,630.3 740.7,628.0 750.0,624.0C759.3,620.0 766.5,612.2 772.0,606.0C777.5,599.8 779.8,594.2 783.0,587.0C786.2,579.8 789.4,572.3 791.4,563.0C793.4,553.7 795.0,541.7 795.0,531.0C795.0,520.3 793.6,508.5 791.4,499.0C789.2,489.5 786.9,484.3 782.0,474.0C777.1,463.7 767.7,447.2 762.0,437.0C756.3,426.8 750.6,421.1 747.6,412.5C744.6,403.9 744.4,394.2 744.0,385.6C743.6,377.0 743.8,367.8 745.0,361.0C746.2,354.2 749.0,349.2 751.0,345.0C753.0,340.8 757.2,339.2 757.0,336.0C756.8,332.8 755.3,328.3 750.0,326.0C744.7,323.7 733.3,322.3 725.0,322.0C716.7,321.7 705.3,322.7 700.0,324.0C694.7,325.3 693.5,326.5 693.0,330.0Z"/></clipPath>
<path d="M693.0,330.0C692.5,333.5 695.7,339.8 697.0,345.0C698.3,350.2 699.9,354.2 701.0,361.0C702.1,367.8 704.4,377.0 703.6,385.6C702.8,394.2 700.4,402.3 696.0,412.5C691.6,422.7 683.2,436.6 677.0,446.8C670.8,457.1 662.5,467.3 659.0,474.0C655.5,480.7 657.5,483.6 655.7,487.0C653.9,490.4 650.3,487.2 648.0,494.5C645.7,501.8 642.5,518.8 642.0,531.0C641.5,543.2 643.0,558.3 644.7,567.8C646.4,577.3 649.1,581.6 652.0,588.0C654.9,594.4 657.0,600.3 662.0,606.0C667.0,611.7 673.0,618.0 682.0,622.0C691.0,626.0 704.7,629.7 716.0,630.0C727.3,630.3 740.7,628.0 750.0,624.0C759.3,620.0 766.5,612.2 772.0,606.0C777.5,599.8 779.8,594.2 783.0,587.0C786.2,579.8 789.4,572.3 791.4,563.0C793.4,553.7 795.0,541.7 795.0,531.0C795.0,520.3 793.6,508.5 791.4,499.0C789.2,489.5 786.9,484.3 782.0,474.0C777.1,463.7 767.7,447.2 762.0,437.0C756.3,426.8 750.6,421.1 747.6,412.5C744.6,403.9 744.4,394.2 744.0,385.6C743.6,377.0 743.8,367.8 745.0,361.0C746.2,354.2 749.0,349.2 751.0,345.0C753.0,340.8 757.2,339.2 757.0,336.0C756.8,332.8 755.3,328.3 750.0,326.0C744.7,323.7 733.3,322.3 725.0,322.0C716.7,321.7 705.3,322.7 700.0,324.0C694.7,325.3 693.5,326.5 693.0,330.0Z" fill="#bdbdbd"/>
<path d="M662.0,608.0C660.3,604.7 654.9,594.7 652.0,588.0C649.1,581.3 646.4,577.3 644.7,567.8C643.0,558.3 641.5,543.2 642.0,531.0C642.5,518.8 645.7,501.8 648.0,494.5C650.3,487.2 653.9,490.4 655.7,487.0C657.5,483.6 655.5,480.7 659.0,474.0C662.5,467.3 670.8,457.1 677.0,446.8C683.2,436.6 691.6,422.7 696.0,412.5C700.4,402.3 702.8,394.2 703.6,385.6C704.4,377.0 702.1,367.8 701.0,361.0C699.9,354.2 698.3,350.2 697.0,345.0C695.7,339.8 693.7,332.5 693.0,330.0" fill="none" stroke="#4a4a4a" stroke-width="3.6" stroke-linecap="round"/>
<path d="M757.0,336.0C756.0,337.5 753.0,340.8 751.0,345.0C749.0,349.2 746.2,354.2 745.0,361.0C743.8,367.8 743.6,377.0 744.0,385.6C744.4,394.2 744.6,403.9 747.6,412.5C750.6,421.1 756.3,426.8 762.0,437.0C767.7,447.2 777.1,463.7 782.0,474.0C786.9,484.3 789.2,489.5 791.4,499.0C793.6,508.5 795.0,520.3 795.0,531.0C795.0,541.7 793.4,553.7 791.4,563.0C789.4,572.3 786.2,579.8 783.0,587.0C779.8,594.2 773.8,602.8 772.0,606.0" fill="none" stroke="#4a4a4a" stroke-width="3.6" stroke-linecap="round"/>
<g clip-path="url(#pbc)">
<path d="M668.0,488.0C667.7,483.3 670.3,475.5 673.0,470.0C675.7,464.5 679.2,459.0 684.0,455.0C688.8,451.0 695.7,447.8 702.0,446.0C708.3,444.2 715.3,443.8 722.0,444.0C728.7,444.2 736.2,444.8 742.0,447.0C747.8,449.2 753.0,452.8 757.0,457.0C761.0,461.2 763.8,466.2 766.0,472.0C768.2,477.8 770.0,486.0 770.0,492.0C770.0,498.0 768.8,507.0 766.0,508.0C763.2,509.0 757.7,501.3 753.0,498.0C748.3,494.7 743.5,490.5 738.0,488.0C732.5,485.5 726.0,483.2 720.0,483.0C714.0,482.8 707.0,484.5 702.0,487.0C697.0,489.5 693.0,494.5 690.0,498.0C687.0,501.5 686.5,508.0 684.0,508.0C681.5,508.0 677.7,501.3 675.0,498.0C672.3,494.7 668.3,492.7 668.0,488.0Z" fill="#505050" filter="url(#soft2)"/>
<path d="M715,335 L728,335 L728.5,400 L729,450 L731,485 L710,485 L709,450 L713,400Z" fill="#555" filter="url(#soft)"/>
<path d="M704,345 Q707,385 703,410 L710,414 Q713,380 712,345Z" fill="#bdbdbd" filter="url(#soft2)"/>
<path d="M731,345 Q731,385 735,414 L742,410 Q738,380 741,345Z" fill="#c4c4c4" filter="url(#soft2)"/>
<path d="M708,482 Q684,505 683,545 Q684,580 700,602" fill="none" stroke="#505050" stroke-width="3.2"/>
<path d="M700,488 Q676,515 677,550 Q680,585 692,606" fill="none" stroke="#8a8a8a" stroke-width="2.2"/>
<path d="M735,482 Q758,505 759,545 Q758,580 745,600" fill="none" stroke="#505050" stroke-width="3.2"/>
<path d="M744,486 Q768,515 767,550 Q764,582 752,602" fill="none" stroke="#5c5c5c" stroke-width="2.6"/>
<path d="M690,500 Q687,540 692,580" fill="none" stroke="#d0d0d0" stroke-width="1.8"/>
<path d="M752,500 Q755,540 750,585" fill="none" stroke="#d0d0d0" stroke-width="1.8"/>
<ellipse cx="720.5" cy="537" rx="27.5" ry="57.5" fill="#747474" stroke="#4a4a4a" stroke-width="4.6"/>
<ellipse cx="731" cy="548" rx="9" ry="30" fill="#949494" filter="url(#soft3)"/>
<path d="M706.0,500.0C705.8,496.3 706.3,491.0 708.0,488.0C709.7,485.0 712.7,483.0 716.0,482.0C719.3,481.0 724.7,480.8 728.0,482.0C731.3,483.2 734.5,485.7 736.0,489.0C737.5,492.3 737.8,498.3 737.0,502.0C736.2,505.7 733.5,510.0 731.0,511.0C728.5,512.0 724.5,507.5 722.0,508.0C719.5,508.5 718.2,513.7 716.0,514.0C713.8,514.3 710.7,512.3 709.0,510.0C707.3,507.7 706.2,503.7 706.0,500.0Z" fill="#3a3a3a" filter="url(#soft)"/>
<path d="M716,505 L718,530" stroke="#4a4a4a" stroke-width="4" filter="url(#soft2)"/>
<circle cx="723.7" cy="534" r="12.5" fill="#bcbcbc" stroke="#444" stroke-width="2.4"/>
<circle cx="723.7" cy="534" r="6" fill="#c8c8c8" stroke="#555" stroke-width="1.8"/>
<circle cx="723.7" cy="534" r="2" fill="#555"/>
<path d="M704.0,588.0C702.8,585.2 703.7,579.8 705.0,577.0C706.3,574.2 709.3,571.7 712.0,571.0C714.7,570.3 718.5,573.2 721.0,573.0C723.5,572.8 724.8,569.3 727.0,570.0C729.2,570.7 732.7,574.0 734.0,577.0C735.3,580.0 736.0,585.2 735.0,588.0C734.0,590.8 731.8,593.0 728.0,594.0C724.2,595.0 716.0,595.0 712.0,594.0C708.0,593.0 705.2,590.8 704.0,588.0Z" fill="#363636" filter="url(#soft)"/>
<path d="M655.7,487 L686,509" stroke="#4a4a4a" stroke-width="3"/>
<path d="M656,470 L656,488" stroke="#4a4a4a" stroke-width="3"/>
<path d="M693.0,330.0C692.5,333.5 695.7,339.8 697.0,345.0C698.3,350.2 699.9,354.2 701.0,361.0C702.1,367.8 704.4,377.0 703.6,385.6C702.8,394.2 700.4,402.3 696.0,412.5C691.6,422.7 683.2,436.6 677.0,446.8C670.8,457.1 662.5,467.3 659.0,474.0C655.5,480.7 657.5,483.6 655.7,487.0C653.9,490.4 650.3,487.2 648.0,494.5C645.7,501.8 642.5,518.8 642.0,531.0C641.5,543.2 643.0,558.3 644.7,567.8C646.4,577.3 649.1,581.6 652.0,588.0C654.9,594.4 657.0,600.3 662.0,606.0C667.0,611.7 673.0,618.0 682.0,622.0C691.0,626.0 704.7,629.7 716.0,630.0C727.3,630.3 740.7,628.0 750.0,624.0C759.3,620.0 766.5,612.2 772.0,606.0C777.5,599.8 779.8,594.2 783.0,587.0C786.2,579.8 789.4,572.3 791.4,563.0C793.4,553.7 795.0,541.7 795.0,531.0C795.0,520.3 793.6,508.5 791.4,499.0C789.2,489.5 786.9,484.3 782.0,474.0C777.1,463.7 767.7,447.2 762.0,437.0C756.3,426.8 750.6,421.1 747.6,412.5C744.6,403.9 744.4,394.2 744.0,385.6C743.6,377.0 743.8,367.8 745.0,361.0C746.2,354.2 749.0,349.2 751.0,345.0C753.0,340.8 757.2,339.2 757.0,336.0C756.8,332.8 755.3,328.3 750.0,326.0C744.7,323.7 733.3,322.3 725.0,322.0C716.7,321.7 705.3,322.7 700.0,324.0C694.7,325.3 693.5,326.5 693.0,330.0Z" fill="url(#htd)" opacity="0.35"/>
</g>
<path d="M637.3,577.6 Q652,598 686,616.7" fill="none" stroke="#555" stroke-width="3.8" stroke-linecap="round"/>
<path d="M641,575 Q646,585 653,593" fill="none" stroke="#5c5c5c" stroke-width="3" stroke-linecap="round"/>
<path d="M636,607 Q659,619 691,624" fill="none" stroke="#666" stroke-width="3" stroke-linecap="round"/>
<path d="M771.8,602 Q794,590 808.5,563" fill="none" stroke="#555" stroke-width="3.8" stroke-linecap="round"/>
<path d="M774,611.8 Q798,602 810,585" fill="none" stroke="#5a5a5a" stroke-width="3.4" stroke-linecap="round"/>
<path d="M778,616 Q800,610 812,600" fill="none" stroke="#6a6a6a" stroke-width="2.4" stroke-linecap="round"/>
<path d="M740,598 Q750,590 757,574" fill="none" stroke="#5a5a5a" stroke-width="2.8" stroke-linecap="round"/>
<path d="M748,604 Q758,596 765,578" fill="none" stroke="#606060" stroke-width="2.6" stroke-linecap="round"/>
<ellipse cx="697" cy="333" rx="6" ry="9" fill="#a4a4a4" stroke="#4a4a4a" stroke-width="2.6" transform="rotate(-20 697 333)"/>
<ellipse cx="752.5" cy="337" rx="6" ry="9" fill="#a8a8a8" stroke="#4a4a4a" stroke-width="2.6" transform="rotate(25 752.5 337)"/>
<ellipse cx="711" cy="321" rx="11.5" ry="12" fill="#484848"/>
<ellipse cx="736.5" cy="321" rx="11.5" ry="12" fill="#484848"/>
<path d="M703,330 Q712,350 716,362 L730,362 Q735,345 745,330Z" fill="#505050"/>
<ellipse cx="723.5" cy="338" rx="2.6" ry="8" fill="#bdbdbd" filter="url(#soft)"/>
<path d="M769.7,371 L726.8,399 M769.7,371 L728,420" stroke="#4a4a4a" stroke-width="2" fill="none"/>
<path d="M485,567.6 L560,602.8 L579,609.5 L642.6,581.8 L706,553.5" stroke="#444" stroke-width="2.2" fill="none" stroke-linejoin="round"/>
</g>
<g filter="url(#soft)">
<text x="197" y="54.8" font-size="26.4" font-weight="bold" fill="#3a3a3a" textLength="526" lengthAdjust="spacingAndGlyphs">Оплодотворение у цветковых растений</text>
<text x="608.7" y="103.5" font-size="24" fill="#393939" textLength="124.2" lengthAdjust="spacingAndGlyphs">пыльцевые</text>
<text x="639.5" y="135.3" font-size="24" fill="#393939" textLength="61.5" lengthAdjust="spacingAndGlyphs">зерна</text>
<text x="422" y="282.5" font-size="24" fill="#393939" textLength="95.6" lengthAdjust="spacingAndGlyphs">пыльник</text>
<text x="771.8" y="331.3" font-size="24" fill="#393939" textLength="96.2" lengthAdjust="spacingAndGlyphs">спермии</text>
<text x="779.4" y="362.8" font-size="24" fill="#393939" textLength="81.5" lengthAdjust="spacingAndGlyphs">в пыль-</text>
<text x="786.5" y="394.5" font-size="24" fill="#393939" textLength="66.2" lengthAdjust="spacingAndGlyphs">цевой</text>
<text x="782.4" y="426.0" font-size="24" fill="#393939" textLength="74.4" lengthAdjust="spacingAndGlyphs">трубке</text>
<text x="151" y="341.3" font-size="24" fill="#393939" textLength="105.5" lengthAdjust="spacingAndGlyphs">оболочка</text>
<text x="163.7" y="391.8" font-size="24" fill="#393939" textLength="121.8" lengthAdjust="spacingAndGlyphs">эндосперм</text>
<text x="176.3" y="437.5" font-size="24" fill="#393939" textLength="100.4" lengthAdjust="spacingAndGlyphs">зародыш</text>
<text x="203.2" y="495.1" font-size="24" fill="#393939" textLength="96.6" lengthAdjust="spacingAndGlyphs">спермии</text>
<text x="77.9" y="545.5" font-size="24" fill="#393939" textLength="51.8" lengthAdjust="spacingAndGlyphs">семя</text>
<text x="118" y="645.0" font-size="24" fill="#393939" textLength="220" lengthAdjust="spacingAndGlyphs">центральная клетка</text>
<text x="106.5" y="676.3" font-size="24" fill="#393939" textLength="242.3" lengthAdjust="spacingAndGlyphs">зародышевого мешка</text>
<text x="512" y="662.5" font-size="24" fill="#393939" textLength="157.6" lengthAdjust="spacingAndGlyphs">зародышевый</text>
<text x="553.2" y="694.0" font-size="24" fill="#393939" textLength="73.5" lengthAdjust="spacingAndGlyphs">мешок</text>
</g>
</svg>
</body></html>
